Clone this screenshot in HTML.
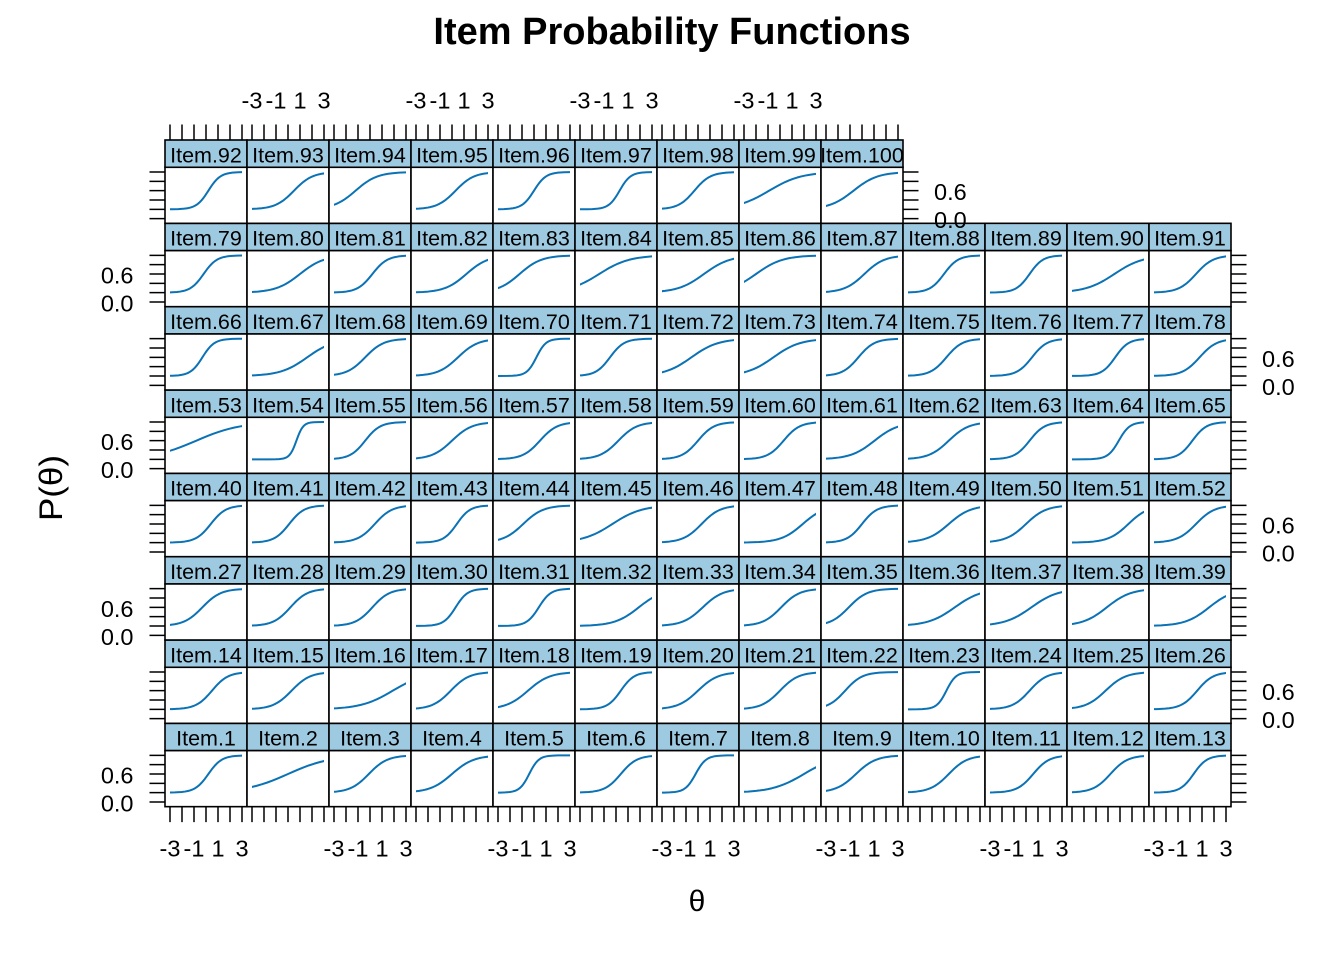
<!DOCTYPE html>
<html><head><meta charset="utf-8"><style>
html,body{margin:0;padding:0;background:#fff}
svg{display:block}
text{font-family:"Liberation Sans",Arial,sans-serif;fill:#000}
.s{fill:#9ECAE1;stroke:#000;stroke-width:1.6}
.p{fill:#fff;stroke:#000;stroke-width:1.6}
.c{fill:none;stroke:#0a72b5;stroke-width:2;vector-effect:non-scaling-stroke;stroke-linejoin:round}
.t{fill:none;stroke:#000;stroke-width:1.5}
.st{font-size:21.5px;text-anchor:middle}
.tl{font-size:23.5px}
.m{text-anchor:middle}
.e{text-anchor:end}
</style></head><body>
<svg width="1344" height="960" viewBox="0 0 1344 960" xmlns="http://www.w3.org/2000/svg">
<defs>
<clipPath id="c0" clipPathUnits="userSpaceOnUse"><rect x="170" y="-1000" width="72" height="3000"/></clipPath>
<clipPath id="c1" clipPathUnits="userSpaceOnUse"><rect x="252" y="-1000" width="72" height="3000"/></clipPath>
<clipPath id="c2" clipPathUnits="userSpaceOnUse"><rect x="334" y="-1000" width="72" height="3000"/></clipPath>
<clipPath id="c3" clipPathUnits="userSpaceOnUse"><rect x="416" y="-1000" width="72" height="3000"/></clipPath>
<clipPath id="c4" clipPathUnits="userSpaceOnUse"><rect x="498" y="-1000" width="72" height="3000"/></clipPath>
<clipPath id="c5" clipPathUnits="userSpaceOnUse"><rect x="580" y="-1000" width="72" height="3000"/></clipPath>
<clipPath id="c6" clipPathUnits="userSpaceOnUse"><rect x="662" y="-1000" width="72" height="3000"/></clipPath>
<clipPath id="c7" clipPathUnits="userSpaceOnUse"><rect x="744" y="-1000" width="72" height="3000"/></clipPath>
<clipPath id="c8" clipPathUnits="userSpaceOnUse"><rect x="826" y="-1000" width="72" height="3000"/></clipPath>
<clipPath id="c9" clipPathUnits="userSpaceOnUse"><rect x="908" y="-1000" width="72" height="3000"/></clipPath>
<clipPath id="c10" clipPathUnits="userSpaceOnUse"><rect x="990" y="-1000" width="72" height="3000"/></clipPath>
<clipPath id="c11" clipPathUnits="userSpaceOnUse"><rect x="1072" y="-1000" width="72" height="3000"/></clipPath>
<clipPath id="c12" clipPathUnits="userSpaceOnUse"><rect x="1154" y="-1000" width="72" height="3000"/></clipPath>
<clipPath id="s100" clipPathUnits="userSpaceOnUse"><rect x="822" y="140" width="82" height="27.3"/></clipPath>
</defs>

<text x="672" y="44" class="m" font-weight="bold" font-size="38">Item Probability Functions</text>

<!-- ROW 7: items 1-13 -->
<g transform="translate(0,583.333)">
<rect class="s" x="165" y="140" width="82" height="27.3"/><rect class="p" x="165" y="167.3" width="82" height="56.03"/>
<rect class="s" x="247" y="140" width="82" height="27.3"/><rect class="p" x="247" y="167.3" width="82" height="56.03"/>
<rect class="s" x="329" y="140" width="82" height="27.3"/><rect class="p" x="329" y="167.3" width="82" height="56.03"/>
<rect class="s" x="411" y="140" width="82" height="27.3"/><rect class="p" x="411" y="167.3" width="82" height="56.03"/>
<rect class="s" x="493" y="140" width="82" height="27.3"/><rect class="p" x="493" y="167.3" width="82" height="56.03"/>
<rect class="s" x="575" y="140" width="82" height="27.3"/><rect class="p" x="575" y="167.3" width="82" height="56.03"/>
<rect class="s" x="657" y="140" width="82" height="27.3"/><rect class="p" x="657" y="167.3" width="82" height="56.03"/>
<rect class="s" x="739" y="140" width="82" height="27.3"/><rect class="p" x="739" y="167.3" width="82" height="56.03"/>
<rect class="s" x="821" y="140" width="82" height="27.3"/><rect class="p" x="821" y="167.3" width="82" height="56.03"/>
<rect class="s" x="903" y="140" width="82" height="27.3"/><rect class="p" x="903" y="167.3" width="82" height="56.03"/>
<rect class="s" x="985" y="140" width="82" height="27.3"/><rect class="p" x="985" y="167.3" width="82" height="56.03"/>
<rect class="s" x="1067" y="140" width="82" height="27.3"/><rect class="p" x="1067" y="167.3" width="82" height="56.03"/>
<rect class="s" x="1149" y="140" width="82" height="27.3"/><rect class="p" x="1149" y="167.3" width="82" height="56.03"/>
<g clip-path="url(#c0)"><path class="c" transform="matrix(.6667 0 0 .37333 208.4 209.33)" d="M-400 0L-80-.03L-60-.25L-50-.67L-40-1.8L-35-2.93L-30-4.74L-27.5-6.01L-25-7.59L-22.5-9.53L-20-11.92L-17.5-14.8L-15-18.24L-12.5-22.27L-10-26.89L-7.5-32.08L-5-37.75L-2.5-43.78L0-50L2.5-56.22L5-62.25L7.5-67.92L10-73.11L12.5-77.73L15-81.76L17.5-85.2L20-88.08L22.5-90.47L25-92.41L27.5-93.99L30-95.26L35-97.07L40-98.2L50-99.33L60-99.75L80-99.97L400-100"/></g>
<g clip-path="url(#c1)"><path class="c" transform="matrix(2.105 0 0 .37333 288 209.33)" d="M-400 0L-80-.03L-60-.25L-50-.67L-40-1.8L-35-2.93L-30-4.74L-27.5-6.01L-25-7.59L-22.5-9.53L-20-11.92L-17.5-14.8L-15-18.24L-12.5-22.27L-10-26.89L-7.5-32.08L-5-37.75L-2.5-43.78L0-50L2.5-56.22L5-62.25L7.5-67.92L10-73.11L12.5-77.73L15-81.76L17.5-85.2L20-88.08L22.5-90.47L25-92.41L27.5-93.99L30-95.26L35-97.07L40-98.2L50-99.33L60-99.75L80-99.97L400-100"/></g>
<g clip-path="url(#c2)"><path class="c" transform="matrix(.923 0 0 .37333 368.8 209.33)" d="M-400 0L-80-.03L-60-.25L-50-.67L-40-1.8L-35-2.93L-30-4.74L-27.5-6.01L-25-7.59L-22.5-9.53L-20-11.92L-17.5-14.8L-15-18.24L-12.5-22.27L-10-26.89L-7.5-32.08L-5-37.75L-2.5-43.78L0-50L2.5-56.22L5-62.25L7.5-67.92L10-73.11L12.5-77.73L15-81.76L17.5-85.2L20-88.08L22.5-90.47L25-92.41L27.5-93.99L30-95.26L35-97.07L40-98.2L50-99.33L60-99.75L80-99.97L400-100"/></g>
<g clip-path="url(#c3)"><path class="c" transform="matrix(1.091 0 0 .37333 452 209.33)" d="M-400 0L-80-.03L-60-.25L-50-.67L-40-1.8L-35-2.93L-30-4.74L-27.5-6.01L-25-7.59L-22.5-9.53L-20-11.92L-17.5-14.8L-15-18.24L-12.5-22.27L-10-26.89L-7.5-32.08L-5-37.75L-2.5-43.78L0-50L2.5-56.22L5-62.25L7.5-67.92L10-73.11L12.5-77.73L15-81.76L17.5-85.2L20-88.08L22.5-90.47L25-92.41L27.5-93.99L30-95.26L35-97.07L40-98.2L50-99.33L60-99.75L80-99.97L400-100"/></g>
<g clip-path="url(#c4)"><path class="c" transform="matrix(.48 0 0 .37333 529.2 209.33)" d="M-400 0L-80-.03L-60-.25L-50-.67L-40-1.8L-35-2.93L-30-4.74L-27.5-6.01L-25-7.59L-22.5-9.53L-20-11.92L-17.5-14.8L-15-18.24L-12.5-22.27L-10-26.89L-7.5-32.08L-5-37.75L-2.5-43.78L0-50L2.5-56.22L5-62.25L7.5-67.92L10-73.11L12.5-77.73L15-81.76L17.5-85.2L20-88.08L22.5-90.47L25-92.41L27.5-93.99L30-95.26L35-97.07L40-98.2L50-99.33L60-99.75L80-99.97L400-100"/></g>
<g clip-path="url(#c5)"><path class="c" transform="matrix(.8 0 0 .37333 620.8 209.33)" d="M-400 0L-80-.03L-60-.25L-50-.67L-40-1.8L-35-2.93L-30-4.74L-27.5-6.01L-25-7.59L-22.5-9.53L-20-11.92L-17.5-14.8L-15-18.24L-12.5-22.27L-10-26.89L-7.5-32.08L-5-37.75L-2.5-43.78L0-50L2.5-56.22L5-62.25L7.5-67.92L10-73.11L12.5-77.73L15-81.76L17.5-85.2L20-88.08L22.5-90.47L25-92.41L27.5-93.99L30-95.26L35-97.07L40-98.2L50-99.33L60-99.75L80-99.97L400-100"/></g>
<g clip-path="url(#c6)"><path class="c" transform="matrix(.5217 0 0 .37333 695.6 209.33)" d="M-400 0L-80-.03L-60-.25L-50-.67L-40-1.8L-35-2.93L-30-4.74L-27.5-6.01L-25-7.59L-22.5-9.53L-20-11.92L-17.5-14.8L-15-18.24L-12.5-22.27L-10-26.89L-7.5-32.08L-5-37.75L-2.5-43.78L0-50L2.5-56.22L5-62.25L7.5-67.92L10-73.11L12.5-77.73L15-81.76L17.5-85.2L20-88.08L22.5-90.47L25-92.41L27.5-93.99L30-95.26L35-97.07L40-98.2L50-99.33L60-99.75L80-99.97L400-100"/></g>
<g clip-path="url(#c7)"><path class="c" transform="matrix(1.6 0 0 .37333 804 209.33)" d="M-400 0L-80-.03L-60-.25L-50-.67L-40-1.8L-35-2.93L-30-4.74L-27.5-6.01L-25-7.59L-22.5-9.53L-20-11.92L-17.5-14.8L-15-18.24L-12.5-22.27L-10-26.89L-7.5-32.08L-5-37.75L-2.5-43.78L0-50L2.5-56.22L5-62.25L7.5-67.92L10-73.11L12.5-77.73L15-81.76L17.5-85.2L20-88.08L22.5-90.47L25-92.41L27.5-93.99L30-95.26L35-97.07L40-98.2L50-99.33L60-99.75L80-99.97L400-100"/></g>
<g clip-path="url(#c8)"><path class="c" transform="matrix(1 0 0 .37333 856 209.33)" d="M-400 0L-80-.03L-60-.25L-50-.67L-40-1.8L-35-2.93L-30-4.74L-27.5-6.01L-25-7.59L-22.5-9.53L-20-11.92L-17.5-14.8L-15-18.24L-12.5-22.27L-10-26.89L-7.5-32.08L-5-37.75L-2.5-43.78L0-50L2.5-56.22L5-62.25L7.5-67.92L10-73.11L12.5-77.73L15-81.76L17.5-85.2L20-88.08L22.5-90.47L25-92.41L27.5-93.99L30-95.26L35-97.07L40-98.2L50-99.33L60-99.75L80-99.97L400-100"/></g>
<g clip-path="url(#c9)"><path class="c" transform="matrix(.923 0 0 .37333 948.8 209.33)" d="M-400 0L-80-.03L-60-.25L-50-.67L-40-1.8L-35-2.93L-30-4.74L-27.5-6.01L-25-7.59L-22.5-9.53L-20-11.92L-17.5-14.8L-15-18.24L-12.5-22.27L-10-26.89L-7.5-32.08L-5-37.75L-2.5-43.78L0-50L2.5-56.22L5-62.25L7.5-67.92L10-73.11L12.5-77.73L15-81.76L17.5-85.2L20-88.08L22.5-90.47L25-92.41L27.5-93.99L30-95.26L35-97.07L40-98.2L50-99.33L60-99.75L80-99.97L400-100"/></g>
<g clip-path="url(#c10)"><path class="c" transform="matrix(.8 0 0 .37333 1033.2 209.33)" d="M-400 0L-80-.03L-60-.25L-50-.67L-40-1.8L-35-2.93L-30-4.74L-27.5-6.01L-25-7.59L-22.5-9.53L-20-11.92L-17.5-14.8L-15-18.24L-12.5-22.27L-10-26.89L-7.5-32.08L-5-37.75L-2.5-43.78L0-50L2.5-56.22L5-62.25L7.5-67.92L10-73.11L12.5-77.73L15-81.76L17.5-85.2L20-88.08L22.5-90.47L25-92.41L27.5-93.99L30-95.26L35-97.07L40-98.2L50-99.33L60-99.75L80-99.97L400-100"/></g>
<g clip-path="url(#c11)"><path class="c" transform="matrix(.857 0 0 .37333 1110.4 209.33)" d="M-400 0L-80-.03L-60-.25L-50-.67L-40-1.8L-35-2.93L-30-4.74L-27.5-6.01L-25-7.59L-22.5-9.53L-20-11.92L-17.5-14.8L-15-18.24L-12.5-22.27L-10-26.89L-7.5-32.08L-5-37.75L-2.5-43.78L0-50L2.5-56.22L5-62.25L7.5-67.92L10-73.11L12.5-77.73L15-81.76L17.5-85.2L20-88.08L22.5-90.47L25-92.41L27.5-93.99L30-95.26L35-97.07L40-98.2L50-99.33L60-99.75L80-99.97L400-100"/></g>
<g clip-path="url(#c12)"><path class="c" transform="matrix(.6667 0 0 .37333 1193.6 209.33)" d="M-400 0L-80-.03L-60-.25L-50-.67L-40-1.8L-35-2.93L-30-4.74L-27.5-6.01L-25-7.59L-22.5-9.53L-20-11.92L-17.5-14.8L-15-18.24L-12.5-22.27L-10-26.89L-7.5-32.08L-5-37.75L-2.5-43.78L0-50L2.5-56.22L5-62.25L7.5-67.92L10-73.11L12.5-77.73L15-81.76L17.5-85.2L20-88.08L22.5-90.47L25-92.41L27.5-93.99L30-95.26L35-97.07L40-98.2L50-99.33L60-99.75L80-99.97L400-100"/></g>
<text class="st" x="206" y="162.3">Item.1</text><text class="st" x="288" y="162.3">Item.2</text><text class="st" x="370" y="162.3">Item.3</text><text class="st" x="452" y="162.3">Item.4</text><text class="st" x="534" y="162.3">Item.5</text><text class="st" x="616" y="162.3">Item.6</text><text class="st" x="698" y="162.3">Item.7</text><text class="st" x="780" y="162.3">Item.8</text><text class="st" x="862" y="162.3">Item.9</text><text class="st" x="944" y="162.3">Item.10</text><text class="st" x="1026" y="162.3">Item.11</text><text class="st" x="1108" y="162.3">Item.12</text><text class="st" x="1190" y="162.3">Item.13</text>
<path class="t" d="M149.5 218.67h15.5M149.5 209.33h15.5M149.5 200h15.5M149.5 190.67h15.5M149.5 181.33h15.5M149.5 172h15.5M1231 218.67h15.5M1231 209.33h15.5M1231 200h15.5M1231 190.67h15.5M1231 181.33h15.5M1231 172h15.5"/>
</g>

<!-- ROW 6: items 14-26 -->
<g transform="translate(0,500)">
<rect class="s" x="165" y="140" width="82" height="27.3"/><rect class="p" x="165" y="167.3" width="82" height="56.03"/>
<rect class="s" x="247" y="140" width="82" height="27.3"/><rect class="p" x="247" y="167.3" width="82" height="56.03"/>
<rect class="s" x="329" y="140" width="82" height="27.3"/><rect class="p" x="329" y="167.3" width="82" height="56.03"/>
<rect class="s" x="411" y="140" width="82" height="27.3"/><rect class="p" x="411" y="167.3" width="82" height="56.03"/>
<rect class="s" x="493" y="140" width="82" height="27.3"/><rect class="p" x="493" y="167.3" width="82" height="56.03"/>
<rect class="s" x="575" y="140" width="82" height="27.3"/><rect class="p" x="575" y="167.3" width="82" height="56.03"/>
<rect class="s" x="657" y="140" width="82" height="27.3"/><rect class="p" x="657" y="167.3" width="82" height="56.03"/>
<rect class="s" x="739" y="140" width="82" height="27.3"/><rect class="p" x="739" y="167.3" width="82" height="56.03"/>
<rect class="s" x="821" y="140" width="82" height="27.3"/><rect class="p" x="821" y="167.3" width="82" height="56.03"/>
<rect class="s" x="903" y="140" width="82" height="27.3"/><rect class="p" x="903" y="167.3" width="82" height="56.03"/>
<rect class="s" x="985" y="140" width="82" height="27.3"/><rect class="p" x="985" y="167.3" width="82" height="56.03"/>
<rect class="s" x="1067" y="140" width="82" height="27.3"/><rect class="p" x="1067" y="167.3" width="82" height="56.03"/>
<rect class="s" x="1149" y="140" width="82" height="27.3"/><rect class="p" x="1149" y="167.3" width="82" height="56.03"/>
<g clip-path="url(#c0)"><path class="c" transform="matrix(.8 0 0 .37333 212 209.33)" d="M-400 0L-80-.03L-60-.25L-50-.67L-40-1.8L-35-2.93L-30-4.74L-27.5-6.01L-25-7.59L-22.5-9.53L-20-11.92L-17.5-14.8L-15-18.24L-12.5-22.27L-10-26.89L-7.5-32.08L-5-37.75L-2.5-43.78L0-50L2.5-56.22L5-62.25L7.5-67.92L10-73.11L12.5-77.73L15-81.76L17.5-85.2L20-88.08L22.5-90.47L25-92.41L27.5-93.99L30-95.26L35-97.07L40-98.2L50-99.33L60-99.75L80-99.97L400-100"/></g>
<g clip-path="url(#c1)"><path class="c" transform="matrix(.923 0 0 .37333 291.6 209.33)" d="M-400 0L-80-.03L-60-.25L-50-.67L-40-1.8L-35-2.93L-30-4.74L-27.5-6.01L-25-7.59L-22.5-9.53L-20-11.92L-17.5-14.8L-15-18.24L-12.5-22.27L-10-26.89L-7.5-32.08L-5-37.75L-2.5-43.78L0-50L2.5-56.22L5-62.25L7.5-67.92L10-73.11L12.5-77.73L15-81.76L17.5-85.2L20-88.08L22.5-90.47L25-92.41L27.5-93.99L30-95.26L35-97.07L40-98.2L50-99.33L60-99.75L80-99.97L400-100"/></g>
<g clip-path="url(#c2)"><path class="c" transform="matrix(1.6 0 0 .37333 392.8 209.33)" d="M-400 0L-80-.03L-60-.25L-50-.67L-40-1.8L-35-2.93L-30-4.74L-27.5-6.01L-25-7.59L-22.5-9.53L-20-11.92L-17.5-14.8L-15-18.24L-12.5-22.27L-10-26.89L-7.5-32.08L-5-37.75L-2.5-43.78L0-50L2.5-56.22L5-62.25L7.5-67.92L10-73.11L12.5-77.73L15-81.76L17.5-85.2L20-88.08L22.5-90.47L25-92.41L27.5-93.99L30-95.26L35-97.07L40-98.2L50-99.33L60-99.75L80-99.97L400-100"/></g>
<g clip-path="url(#c3)"><path class="c" transform="matrix(.923 0 0 .37333 450.8 209.33)" d="M-400 0L-80-.03L-60-.25L-50-.67L-40-1.8L-35-2.93L-30-4.74L-27.5-6.01L-25-7.59L-22.5-9.53L-20-11.92L-17.5-14.8L-15-18.24L-12.5-22.27L-10-26.89L-7.5-32.08L-5-37.75L-2.5-43.78L0-50L2.5-56.22L5-62.25L7.5-67.92L10-73.11L12.5-77.73L15-81.76L17.5-85.2L20-88.08L22.5-90.47L25-92.41L27.5-93.99L30-95.26L35-97.07L40-98.2L50-99.33L60-99.75L80-99.97L400-100"/></g>
<g clip-path="url(#c4)"><path class="c" transform="matrix(1.091 0 0 .37333 528 209.33)" d="M-400 0L-80-.03L-60-.25L-50-.67L-40-1.8L-35-2.93L-30-4.74L-27.5-6.01L-25-7.59L-22.5-9.53L-20-11.92L-17.5-14.8L-15-18.24L-12.5-22.27L-10-26.89L-7.5-32.08L-5-37.75L-2.5-43.78L0-50L2.5-56.22L5-62.25L7.5-67.92L10-73.11L12.5-77.73L15-81.76L17.5-85.2L20-88.08L22.5-90.47L25-92.41L27.5-93.99L30-95.26L35-97.07L40-98.2L50-99.33L60-99.75L80-99.97L400-100"/></g>
<g clip-path="url(#c5)"><path class="c" transform="matrix(.6667 0 0 .37333 620.8 209.33)" d="M-400 0L-80-.03L-60-.25L-50-.67L-40-1.8L-35-2.93L-30-4.74L-27.5-6.01L-25-7.59L-22.5-9.53L-20-11.92L-17.5-14.8L-15-18.24L-12.5-22.27L-10-26.89L-7.5-32.08L-5-37.75L-2.5-43.78L0-50L2.5-56.22L5-62.25L7.5-67.92L10-73.11L12.5-77.73L15-81.76L17.5-85.2L20-88.08L22.5-90.47L25-92.41L27.5-93.99L30-95.26L35-97.07L40-98.2L50-99.33L60-99.75L80-99.97L400-100"/></g>
<g clip-path="url(#c6)"><path class="c" transform="matrix(1 0 0 .37333 698 209.33)" d="M-400 0L-80-.03L-60-.25L-50-.67L-40-1.8L-35-2.93L-30-4.74L-27.5-6.01L-25-7.59L-22.5-9.53L-20-11.92L-17.5-14.8L-15-18.24L-12.5-22.27L-10-26.89L-7.5-32.08L-5-37.75L-2.5-43.78L0-50L2.5-56.22L5-62.25L7.5-67.92L10-73.11L12.5-77.73L15-81.76L17.5-85.2L20-88.08L22.5-90.47L25-92.41L27.5-93.99L30-95.26L35-97.07L40-98.2L50-99.33L60-99.75L80-99.97L400-100"/></g>
<g clip-path="url(#c7)"><path class="c" transform="matrix(.923 0 0 .37333 780 209.33)" d="M-400 0L-80-.03L-60-.25L-50-.67L-40-1.8L-35-2.93L-30-4.74L-27.5-6.01L-25-7.59L-22.5-9.53L-20-11.92L-17.5-14.8L-15-18.24L-12.5-22.27L-10-26.89L-7.5-32.08L-5-37.75L-2.5-43.78L0-50L2.5-56.22L5-62.25L7.5-67.92L10-73.11L12.5-77.73L15-81.76L17.5-85.2L20-88.08L22.5-90.47L25-92.41L27.5-93.99L30-95.26L35-97.07L40-98.2L50-99.33L60-99.75L80-99.97L400-100"/></g>
<g clip-path="url(#c8)"><path class="c" transform="matrix(.857 0 0 .37333 845.2 209.33)" d="M-400 0L-80-.03L-60-.25L-50-.67L-40-1.8L-35-2.93L-30-4.74L-27.5-6.01L-25-7.59L-22.5-9.53L-20-11.92L-17.5-14.8L-15-18.24L-12.5-22.27L-10-26.89L-7.5-32.08L-5-37.75L-2.5-43.78L0-50L2.5-56.22L5-62.25L7.5-67.92L10-73.11L12.5-77.73L15-81.76L17.5-85.2L20-88.08L22.5-90.47L25-92.41L27.5-93.99L30-95.26L35-97.07L40-98.2L50-99.33L60-99.75L80-99.97L400-100"/></g>
<g clip-path="url(#c9)"><path class="c" transform="matrix(.48 0 0 .37333 946.4 209.33)" d="M-400 0L-80-.03L-60-.25L-50-.67L-40-1.8L-35-2.93L-30-4.74L-27.5-6.01L-25-7.59L-22.5-9.53L-20-11.92L-17.5-14.8L-15-18.24L-12.5-22.27L-10-26.89L-7.5-32.08L-5-37.75L-2.5-43.78L0-50L2.5-56.22L5-62.25L7.5-67.92L10-73.11L12.5-77.73L15-81.76L17.5-85.2L20-88.08L22.5-90.47L25-92.41L27.5-93.99L30-95.26L35-97.07L40-98.2L50-99.33L60-99.75L80-99.97L400-100"/></g>
<g clip-path="url(#c10)"><path class="c" transform="matrix(.857 0 0 .37333 1029.6 209.33)" d="M-400 0L-80-.03L-60-.25L-50-.67L-40-1.8L-35-2.93L-30-4.74L-27.5-6.01L-25-7.59L-22.5-9.53L-20-11.92L-17.5-14.8L-15-18.24L-12.5-22.27L-10-26.89L-7.5-32.08L-5-37.75L-2.5-43.78L0-50L2.5-56.22L5-62.25L7.5-67.92L10-73.11L12.5-77.73L15-81.76L17.5-85.2L20-88.08L22.5-90.47L25-92.41L27.5-93.99L30-95.26L35-97.07L40-98.2L50-99.33L60-99.75L80-99.97L400-100"/></g>
<g clip-path="url(#c11)"><path class="c" transform="matrix(1 0 0 .37333 1105.6 209.33)" d="M-400 0L-80-.03L-60-.25L-50-.67L-40-1.8L-35-2.93L-30-4.74L-27.5-6.01L-25-7.59L-22.5-9.53L-20-11.92L-17.5-14.8L-15-18.24L-12.5-22.27L-10-26.89L-7.5-32.08L-5-37.75L-2.5-43.78L0-50L2.5-56.22L5-62.25L7.5-67.92L10-73.11L12.5-77.73L15-81.76L17.5-85.2L20-88.08L22.5-90.47L25-92.41L27.5-93.99L30-95.26L35-97.07L40-98.2L50-99.33L60-99.75L80-99.97L400-100"/></g>
<g clip-path="url(#c12)"><path class="c" transform="matrix(.8 0 0 .37333 1197.2 209.33)" d="M-400 0L-80-.03L-60-.25L-50-.67L-40-1.8L-35-2.93L-30-4.74L-27.5-6.01L-25-7.59L-22.5-9.53L-20-11.92L-17.5-14.8L-15-18.24L-12.5-22.27L-10-26.89L-7.5-32.08L-5-37.75L-2.5-43.78L0-50L2.5-56.22L5-62.25L7.5-67.92L10-73.11L12.5-77.73L15-81.76L17.5-85.2L20-88.08L22.5-90.47L25-92.41L27.5-93.99L30-95.26L35-97.07L40-98.2L50-99.33L60-99.75L80-99.97L400-100"/></g>
<text class="st" x="206" y="162.3">Item.14</text><text class="st" x="288" y="162.3">Item.15</text><text class="st" x="370" y="162.3">Item.16</text><text class="st" x="452" y="162.3">Item.17</text><text class="st" x="534" y="162.3">Item.18</text><text class="st" x="616" y="162.3">Item.19</text><text class="st" x="698" y="162.3">Item.20</text><text class="st" x="780" y="162.3">Item.21</text><text class="st" x="862" y="162.3">Item.22</text><text class="st" x="944" y="162.3">Item.23</text><text class="st" x="1026" y="162.3">Item.24</text><text class="st" x="1108" y="162.3">Item.25</text><text class="st" x="1190" y="162.3">Item.26</text>
<path class="t" d="M149.5 218.67h15.5M149.5 209.33h15.5M149.5 200h15.5M149.5 190.67h15.5M149.5 181.33h15.5M149.5 172h15.5M1231 218.67h15.5M1231 209.33h15.5M1231 200h15.5M1231 190.67h15.5M1231 181.33h15.5M1231 172h15.5"/>
</g>

<!-- ROW 5: items 27-39 -->
<g transform="translate(0,416.667)">
<rect class="s" x="165" y="140" width="82" height="27.3"/><rect class="p" x="165" y="167.3" width="82" height="56.03"/>
<rect class="s" x="247" y="140" width="82" height="27.3"/><rect class="p" x="247" y="167.3" width="82" height="56.03"/>
<rect class="s" x="329" y="140" width="82" height="27.3"/><rect class="p" x="329" y="167.3" width="82" height="56.03"/>
<rect class="s" x="411" y="140" width="82" height="27.3"/><rect class="p" x="411" y="167.3" width="82" height="56.03"/>
<rect class="s" x="493" y="140" width="82" height="27.3"/><rect class="p" x="493" y="167.3" width="82" height="56.03"/>
<rect class="s" x="575" y="140" width="82" height="27.3"/><rect class="p" x="575" y="167.3" width="82" height="56.03"/>
<rect class="s" x="657" y="140" width="82" height="27.3"/><rect class="p" x="657" y="167.3" width="82" height="56.03"/>
<rect class="s" x="739" y="140" width="82" height="27.3"/><rect class="p" x="739" y="167.3" width="82" height="56.03"/>
<rect class="s" x="821" y="140" width="82" height="27.3"/><rect class="p" x="821" y="167.3" width="82" height="56.03"/>
<rect class="s" x="903" y="140" width="82" height="27.3"/><rect class="p" x="903" y="167.3" width="82" height="56.03"/>
<rect class="s" x="985" y="140" width="82" height="27.3"/><rect class="p" x="985" y="167.3" width="82" height="56.03"/>
<rect class="s" x="1067" y="140" width="82" height="27.3"/><rect class="p" x="1067" y="167.3" width="82" height="56.03"/>
<rect class="s" x="1149" y="140" width="82" height="27.3"/><rect class="p" x="1149" y="167.3" width="82" height="56.03"/>
<g clip-path="url(#c0)"><path class="c" transform="matrix(.923 0 0 .37333 202.4 209.33)" d="M-400 0L-80-.03L-60-.25L-50-.67L-40-1.8L-35-2.93L-30-4.74L-27.5-6.01L-25-7.59L-22.5-9.53L-20-11.92L-17.5-14.8L-15-18.24L-12.5-22.27L-10-26.89L-7.5-32.08L-5-37.75L-2.5-43.78L0-50L2.5-56.22L5-62.25L7.5-67.92L10-73.11L12.5-77.73L15-81.76L17.5-85.2L20-88.08L22.5-90.47L25-92.41L27.5-93.99L30-95.26L35-97.07L40-98.2L50-99.33L60-99.75L80-99.97L400-100"/></g>
<g clip-path="url(#c1)"><path class="c" transform="matrix(.857 0 0 .37333 290.4 209.33)" d="M-400 0L-80-.03L-60-.25L-50-.67L-40-1.8L-35-2.93L-30-4.74L-27.5-6.01L-25-7.59L-22.5-9.53L-20-11.92L-17.5-14.8L-15-18.24L-12.5-22.27L-10-26.89L-7.5-32.08L-5-37.75L-2.5-43.78L0-50L2.5-56.22L5-62.25L7.5-67.92L10-73.11L12.5-77.73L15-81.76L17.5-85.2L20-88.08L22.5-90.47L25-92.41L27.5-93.99L30-95.26L35-97.07L40-98.2L50-99.33L60-99.75L80-99.97L400-100"/></g>
<g clip-path="url(#c2)"><path class="c" transform="matrix(.857 0 0 .37333 372.4 209.33)" d="M-400 0L-80-.03L-60-.25L-50-.67L-40-1.8L-35-2.93L-30-4.74L-27.5-6.01L-25-7.59L-22.5-9.53L-20-11.92L-17.5-14.8L-15-18.24L-12.5-22.27L-10-26.89L-7.5-32.08L-5-37.75L-2.5-43.78L0-50L2.5-56.22L5-62.25L7.5-67.92L10-73.11L12.5-77.73L15-81.76L17.5-85.2L20-88.08L22.5-90.47L25-92.41L27.5-93.99L30-95.26L35-97.07L40-98.2L50-99.33L60-99.75L80-99.97L400-100"/></g>
<g clip-path="url(#c3)"><path class="c" transform="matrix(.6 0 0 .37333 455.6 209.33)" d="M-400 0L-80-.03L-60-.25L-50-.67L-40-1.8L-35-2.93L-30-4.74L-27.5-6.01L-25-7.59L-22.5-9.53L-20-11.92L-17.5-14.8L-15-18.24L-12.5-22.27L-10-26.89L-7.5-32.08L-5-37.75L-2.5-43.78L0-50L2.5-56.22L5-62.25L7.5-67.92L10-73.11L12.5-77.73L15-81.76L17.5-85.2L20-88.08L22.5-90.47L25-92.41L27.5-93.99L30-95.26L35-97.07L40-98.2L50-99.33L60-99.75L80-99.97L400-100"/></g>
<g clip-path="url(#c4)"><path class="c" transform="matrix(.6 0 0 .37333 538.8 209.33)" d="M-400 0L-80-.03L-60-.25L-50-.67L-40-1.8L-35-2.93L-30-4.74L-27.5-6.01L-25-7.59L-22.5-9.53L-20-11.92L-17.5-14.8L-15-18.24L-12.5-22.27L-10-26.89L-7.5-32.08L-5-37.75L-2.5-43.78L0-50L2.5-56.22L5-62.25L7.5-67.92L10-73.11L12.5-77.73L15-81.76L17.5-85.2L20-88.08L22.5-90.47L25-92.41L27.5-93.99L30-95.26L35-97.07L40-98.2L50-99.33L60-99.75L80-99.97L400-100"/></g>
<g clip-path="url(#c5)"><path class="c" transform="matrix(1.2 0 0 .37333 638.8 209.33)" d="M-400 0L-80-.03L-60-.25L-50-.67L-40-1.8L-35-2.93L-30-4.74L-27.5-6.01L-25-7.59L-22.5-9.53L-20-11.92L-17.5-14.8L-15-18.24L-12.5-22.27L-10-26.89L-7.5-32.08L-5-37.75L-2.5-43.78L0-50L2.5-56.22L5-62.25L7.5-67.92L10-73.11L12.5-77.73L15-81.76L17.5-85.2L20-88.08L22.5-90.47L25-92.41L27.5-93.99L30-95.26L35-97.07L40-98.2L50-99.33L60-99.75L80-99.97L400-100"/></g>
<g clip-path="url(#c6)"><path class="c" transform="matrix(1 0 0 .37333 702.8 209.33)" d="M-400 0L-80-.03L-60-.25L-50-.67L-40-1.8L-35-2.93L-30-4.74L-27.5-6.01L-25-7.59L-22.5-9.53L-20-11.92L-17.5-14.8L-15-18.24L-12.5-22.27L-10-26.89L-7.5-32.08L-5-37.75L-2.5-43.78L0-50L2.5-56.22L5-62.25L7.5-67.92L10-73.11L12.5-77.73L15-81.76L17.5-85.2L20-88.08L22.5-90.47L25-92.41L27.5-93.99L30-95.26L35-97.07L40-98.2L50-99.33L60-99.75L80-99.97L400-100"/></g>
<g clip-path="url(#c7)"><path class="c" transform="matrix(.923 0 0 .37333 781.2 209.33)" d="M-400 0L-80-.03L-60-.25L-50-.67L-40-1.8L-35-2.93L-30-4.74L-27.5-6.01L-25-7.59L-22.5-9.53L-20-11.92L-17.5-14.8L-15-18.24L-12.5-22.27L-10-26.89L-7.5-32.08L-5-37.75L-2.5-43.78L0-50L2.5-56.22L5-62.25L7.5-67.92L10-73.11L12.5-77.73L15-81.76L17.5-85.2L20-88.08L22.5-90.47L25-92.41L27.5-93.99L30-95.26L35-97.07L40-98.2L50-99.33L60-99.75L80-99.97L400-100"/></g>
<g clip-path="url(#c8)"><path class="c" transform="matrix(.923 0 0 .37333 848.8 209.33)" d="M-400 0L-80-.03L-60-.25L-50-.67L-40-1.8L-35-2.93L-30-4.74L-27.5-6.01L-25-7.59L-22.5-9.53L-20-11.92L-17.5-14.8L-15-18.24L-12.5-22.27L-10-26.89L-7.5-32.08L-5-37.75L-2.5-43.78L0-50L2.5-56.22L5-62.25L7.5-67.92L10-73.11L12.5-77.73L15-81.76L17.5-85.2L20-88.08L22.5-90.47L25-92.41L27.5-93.99L30-95.26L35-97.07L40-98.2L50-99.33L60-99.75L80-99.97L400-100"/></g>
<g clip-path="url(#c9)"><path class="c" transform="matrix(1.333 0 0 .37333 954.8 209.33)" d="M-400 0L-80-.03L-60-.25L-50-.67L-40-1.8L-35-2.93L-30-4.74L-27.5-6.01L-25-7.59L-22.5-9.53L-20-11.92L-17.5-14.8L-15-18.24L-12.5-22.27L-10-26.89L-7.5-32.08L-5-37.75L-2.5-43.78L0-50L2.5-56.22L5-62.25L7.5-67.92L10-73.11L12.5-77.73L15-81.76L17.5-85.2L20-88.08L22.5-90.47L25-92.41L27.5-93.99L30-95.26L35-97.07L40-98.2L50-99.33L60-99.75L80-99.97L400-100"/></g>
<g clip-path="url(#c10)"><path class="c" transform="matrix(1.333 0 0 .37333 1031.4 209.33)" d="M-400 0L-80-.03L-60-.25L-50-.67L-40-1.8L-35-2.93L-30-4.74L-27.5-6.01L-25-7.59L-22.5-9.53L-20-11.92L-17.5-14.8L-15-18.24L-12.5-22.27L-10-26.89L-7.5-32.08L-5-37.75L-2.5-43.78L0-50L2.5-56.22L5-62.25L7.5-67.92L10-73.11L12.5-77.73L15-81.76L17.5-85.2L20-88.08L22.5-90.47L25-92.41L27.5-93.99L30-95.26L35-97.07L40-98.2L50-99.33L60-99.75L80-99.97L400-100"/></g>
<g clip-path="url(#c11)"><path class="c" transform="matrix(1.2 0 0 .37333 1106.8 209.33)" d="M-400 0L-80-.03L-60-.25L-50-.67L-40-1.8L-35-2.93L-30-4.74L-27.5-6.01L-25-7.59L-22.5-9.53L-20-11.92L-17.5-14.8L-15-18.24L-12.5-22.27L-10-26.89L-7.5-32.08L-5-37.75L-2.5-43.78L0-50L2.5-56.22L5-62.25L7.5-67.92L10-73.11L12.5-77.73L15-81.76L17.5-85.2L20-88.08L22.5-90.47L25-92.41L27.5-93.99L30-95.26L35-97.07L40-98.2L50-99.33L60-99.75L80-99.97L400-100"/></g>
<g clip-path="url(#c12)"><path class="c" transform="matrix(1.2 0 0 .37333 1209.2 209.33)" d="M-400 0L-80-.03L-60-.25L-50-.67L-40-1.8L-35-2.93L-30-4.74L-27.5-6.01L-25-7.59L-22.5-9.53L-20-11.92L-17.5-14.8L-15-18.24L-12.5-22.27L-10-26.89L-7.5-32.08L-5-37.75L-2.5-43.78L0-50L2.5-56.22L5-62.25L7.5-67.92L10-73.11L12.5-77.73L15-81.76L17.5-85.2L20-88.08L22.5-90.47L25-92.41L27.5-93.99L30-95.26L35-97.07L40-98.2L50-99.33L60-99.75L80-99.97L400-100"/></g>
<text class="st" x="206" y="162.3">Item.27</text><text class="st" x="288" y="162.3">Item.28</text><text class="st" x="370" y="162.3">Item.29</text><text class="st" x="452" y="162.3">Item.30</text><text class="st" x="534" y="162.3">Item.31</text><text class="st" x="616" y="162.3">Item.32</text><text class="st" x="698" y="162.3">Item.33</text><text class="st" x="780" y="162.3">Item.34</text><text class="st" x="862" y="162.3">Item.35</text><text class="st" x="944" y="162.3">Item.36</text><text class="st" x="1026" y="162.3">Item.37</text><text class="st" x="1108" y="162.3">Item.38</text><text class="st" x="1190" y="162.3">Item.39</text>
<path class="t" d="M149.5 218.67h15.5M149.5 209.33h15.5M149.5 200h15.5M149.5 190.67h15.5M149.5 181.33h15.5M149.5 172h15.5M1231 218.67h15.5M1231 209.33h15.5M1231 200h15.5M1231 190.67h15.5M1231 181.33h15.5M1231 172h15.5"/>
</g>

<!-- ROW 4: items 40-52 -->
<g transform="translate(0,333.333)">
<rect class="s" x="165" y="140" width="82" height="27.3"/><rect class="p" x="165" y="167.3" width="82" height="56.03"/>
<rect class="s" x="247" y="140" width="82" height="27.3"/><rect class="p" x="247" y="167.3" width="82" height="56.03"/>
<rect class="s" x="329" y="140" width="82" height="27.3"/><rect class="p" x="329" y="167.3" width="82" height="56.03"/>
<rect class="s" x="411" y="140" width="82" height="27.3"/><rect class="p" x="411" y="167.3" width="82" height="56.03"/>
<rect class="s" x="493" y="140" width="82" height="27.3"/><rect class="p" x="493" y="167.3" width="82" height="56.03"/>
<rect class="s" x="575" y="140" width="82" height="27.3"/><rect class="p" x="575" y="167.3" width="82" height="56.03"/>
<rect class="s" x="657" y="140" width="82" height="27.3"/><rect class="p" x="657" y="167.3" width="82" height="56.03"/>
<rect class="s" x="739" y="140" width="82" height="27.3"/><rect class="p" x="739" y="167.3" width="82" height="56.03"/>
<rect class="s" x="821" y="140" width="82" height="27.3"/><rect class="p" x="821" y="167.3" width="82" height="56.03"/>
<rect class="s" x="903" y="140" width="82" height="27.3"/><rect class="p" x="903" y="167.3" width="82" height="56.03"/>
<rect class="s" x="985" y="140" width="82" height="27.3"/><rect class="p" x="985" y="167.3" width="82" height="56.03"/>
<rect class="s" x="1067" y="140" width="82" height="27.3"/><rect class="p" x="1067" y="167.3" width="82" height="56.03"/>
<rect class="s" x="1149" y="140" width="82" height="27.3"/><rect class="p" x="1149" y="167.3" width="82" height="56.03"/>
<g clip-path="url(#c0)"><path class="c" transform="matrix(.75 0 0 .37333 210.8 209.33)" d="M-400 0L-80-.03L-60-.25L-50-.67L-40-1.8L-35-2.93L-30-4.74L-27.5-6.01L-25-7.59L-22.5-9.53L-20-11.92L-17.5-14.8L-15-18.24L-12.5-22.27L-10-26.89L-7.5-32.08L-5-37.75L-2.5-43.78L0-50L2.5-56.22L5-62.25L7.5-67.92L10-73.11L12.5-77.73L15-81.76L17.5-85.2L20-88.08L22.5-90.47L25-92.41L27.5-93.99L30-95.26L35-97.07L40-98.2L50-99.33L60-99.75L80-99.97L400-100"/></g>
<g clip-path="url(#c1)"><path class="c" transform="matrix(.75 0 0 .37333 289.2 209.33)" d="M-400 0L-80-.03L-60-.25L-50-.67L-40-1.8L-35-2.93L-30-4.74L-27.5-6.01L-25-7.59L-22.5-9.53L-20-11.92L-17.5-14.8L-15-18.24L-12.5-22.27L-10-26.89L-7.5-32.08L-5-37.75L-2.5-43.78L0-50L2.5-56.22L5-62.25L7.5-67.92L10-73.11L12.5-77.73L15-81.76L17.5-85.2L20-88.08L22.5-90.47L25-92.41L27.5-93.99L30-95.26L35-97.07L40-98.2L50-99.33L60-99.75L80-99.97L400-100"/></g>
<g clip-path="url(#c2)"><path class="c" transform="matrix(.857 0 0 .37333 374.8 209.33)" d="M-400 0L-80-.03L-60-.25L-50-.67L-40-1.8L-35-2.93L-30-4.74L-27.5-6.01L-25-7.59L-22.5-9.53L-20-11.92L-17.5-14.8L-15-18.24L-12.5-22.27L-10-26.89L-7.5-32.08L-5-37.75L-2.5-43.78L0-50L2.5-56.22L5-62.25L7.5-67.92L10-73.11L12.5-77.73L15-81.76L17.5-85.2L20-88.08L22.5-90.47L25-92.41L27.5-93.99L30-95.26L35-97.07L40-98.2L50-99.33L60-99.75L80-99.97L400-100"/></g>
<g clip-path="url(#c3)"><path class="c" transform="matrix(.6667 0 0 .37333 456.8 209.33)" d="M-400 0L-80-.03L-60-.25L-50-.67L-40-1.8L-35-2.93L-30-4.74L-27.5-6.01L-25-7.59L-22.5-9.53L-20-11.92L-17.5-14.8L-15-18.24L-12.5-22.27L-10-26.89L-7.5-32.08L-5-37.75L-2.5-43.78L0-50L2.5-56.22L5-62.25L7.5-67.92L10-73.11L12.5-77.73L15-81.76L17.5-85.2L20-88.08L22.5-90.47L25-92.41L27.5-93.99L30-95.26L35-97.07L40-98.2L50-99.33L60-99.75L80-99.97L400-100"/></g>
<g clip-path="url(#c4)"><path class="c" transform="matrix(1 0 0 .37333 523.2 209.33)" d="M-400 0L-80-.03L-60-.25L-50-.67L-40-1.8L-35-2.93L-30-4.74L-27.5-6.01L-25-7.59L-22.5-9.53L-20-11.92L-17.5-14.8L-15-18.24L-12.5-22.27L-10-26.89L-7.5-32.08L-5-37.75L-2.5-43.78L0-50L2.5-56.22L5-62.25L7.5-67.92L10-73.11L12.5-77.73L15-81.76L17.5-85.2L20-88.08L22.5-90.47L25-92.41L27.5-93.99L30-95.26L35-97.07L40-98.2L50-99.33L60-99.75L80-99.97L400-100"/></g>
<g clip-path="url(#c5)"><path class="c" transform="matrix(1.463 0 0 .37333 612.4 209.33)" d="M-400 0L-80-.03L-60-.25L-50-.67L-40-1.8L-35-2.93L-30-4.74L-27.5-6.01L-25-7.59L-22.5-9.53L-20-11.92L-17.5-14.8L-15-18.24L-12.5-22.27L-10-26.89L-7.5-32.08L-5-37.75L-2.5-43.78L0-50L2.5-56.22L5-62.25L7.5-67.92L10-73.11L12.5-77.73L15-81.76L17.5-85.2L20-88.08L22.5-90.47L25-92.41L27.5-93.99L30-95.26L35-97.07L40-98.2L50-99.33L60-99.75L80-99.97L400-100"/></g>
<g clip-path="url(#c6)"><path class="c" transform="matrix(.923 0 0 .37333 701.6 209.33)" d="M-400 0L-80-.03L-60-.25L-50-.67L-40-1.8L-35-2.93L-30-4.74L-27.5-6.01L-25-7.59L-22.5-9.53L-20-11.92L-17.5-14.8L-15-18.24L-12.5-22.27L-10-26.89L-7.5-32.08L-5-37.75L-2.5-43.78L0-50L2.5-56.22L5-62.25L7.5-67.92L10-73.11L12.5-77.73L15-81.76L17.5-85.2L20-88.08L22.5-90.47L25-92.41L27.5-93.99L30-95.26L35-97.07L40-98.2L50-99.33L60-99.75L80-99.97L400-100"/></g>
<g clip-path="url(#c7)"><path class="c" transform="matrix(1.091 0 0 .37333 802.8 209.33)" d="M-400 0L-80-.03L-60-.25L-50-.67L-40-1.8L-35-2.93L-30-4.74L-27.5-6.01L-25-7.59L-22.5-9.53L-20-11.92L-17.5-14.8L-15-18.24L-12.5-22.27L-10-26.89L-7.5-32.08L-5-37.75L-2.5-43.78L0-50L2.5-56.22L5-62.25L7.5-67.92L10-73.11L12.5-77.73L15-81.76L17.5-85.2L20-88.08L22.5-90.47L25-92.41L27.5-93.99L30-95.26L35-97.07L40-98.2L50-99.33L60-99.75L80-99.97L400-100"/></g>
<g clip-path="url(#c8)"><path class="c" transform="matrix(.75 0 0 .37333 862 209.33)" d="M-400 0L-80-.03L-60-.25L-50-.67L-40-1.8L-35-2.93L-30-4.74L-27.5-6.01L-25-7.59L-22.5-9.53L-20-11.92L-17.5-14.8L-15-18.24L-12.5-22.27L-10-26.89L-7.5-32.08L-5-37.75L-2.5-43.78L0-50L2.5-56.22L5-62.25L7.5-67.92L10-73.11L12.5-77.73L15-81.76L17.5-85.2L20-88.08L22.5-90.47L25-92.41L27.5-93.99L30-95.26L35-97.07L40-98.2L50-99.33L60-99.75L80-99.97L400-100"/></g>
<g clip-path="url(#c9)"><path class="c" transform="matrix(1.091 0 0 .37333 948.8 209.33)" d="M-400 0L-80-.03L-60-.25L-50-.67L-40-1.8L-35-2.93L-30-4.74L-27.5-6.01L-25-7.59L-22.5-9.53L-20-11.92L-17.5-14.8L-15-18.24L-12.5-22.27L-10-26.89L-7.5-32.08L-5-37.75L-2.5-43.78L0-50L2.5-56.22L5-62.25L7.5-67.92L10-73.11L12.5-77.73L15-81.76L17.5-85.2L20-88.08L22.5-90.47L25-92.41L27.5-93.99L30-95.26L35-97.07L40-98.2L50-99.33L60-99.75L80-99.97L400-100"/></g>
<g clip-path="url(#c10)"><path class="c" transform="matrix(1 0 0 .37333 1026 209.33)" d="M-400 0L-80-.03L-60-.25L-50-.67L-40-1.8L-35-2.93L-30-4.74L-27.5-6.01L-25-7.59L-22.5-9.53L-20-11.92L-17.5-14.8L-15-18.24L-12.5-22.27L-10-26.89L-7.5-32.08L-5-37.75L-2.5-43.78L0-50L2.5-56.22L5-62.25L7.5-67.92L10-73.11L12.5-77.73L15-81.76L17.5-85.2L20-88.08L22.5-90.47L25-92.41L27.5-93.99L30-95.26L35-97.07L40-98.2L50-99.33L60-99.75L80-99.97L400-100"/></g>
<g clip-path="url(#c11)"><path class="c" transform="matrix(1 0 0 .37333 1128.4 209.33)" d="M-400 0L-80-.03L-60-.25L-50-.67L-40-1.8L-35-2.93L-30-4.74L-27.5-6.01L-25-7.59L-22.5-9.53L-20-11.92L-17.5-14.8L-15-18.24L-12.5-22.27L-10-26.89L-7.5-32.08L-5-37.75L-2.5-43.78L0-50L2.5-56.22L5-62.25L7.5-67.92L10-73.11L12.5-77.73L15-81.76L17.5-85.2L20-88.08L22.5-90.47L25-92.41L27.5-93.99L30-95.26L35-97.07L40-98.2L50-99.33L60-99.75L80-99.97L400-100"/></g>
<g clip-path="url(#c12)"><path class="c" transform="matrix(.923 0 0 .37333 1196 209.33)" d="M-400 0L-80-.03L-60-.25L-50-.67L-40-1.8L-35-2.93L-30-4.74L-27.5-6.01L-25-7.59L-22.5-9.53L-20-11.92L-17.5-14.8L-15-18.24L-12.5-22.27L-10-26.89L-7.5-32.08L-5-37.75L-2.5-43.78L0-50L2.5-56.22L5-62.25L7.5-67.92L10-73.11L12.5-77.73L15-81.76L17.5-85.2L20-88.08L22.5-90.47L25-92.41L27.5-93.99L30-95.26L35-97.07L40-98.2L50-99.33L60-99.75L80-99.97L400-100"/></g>
<text class="st" x="206" y="162.3">Item.40</text><text class="st" x="288" y="162.3">Item.41</text><text class="st" x="370" y="162.3">Item.42</text><text class="st" x="452" y="162.3">Item.43</text><text class="st" x="534" y="162.3">Item.44</text><text class="st" x="616" y="162.3">Item.45</text><text class="st" x="698" y="162.3">Item.46</text><text class="st" x="780" y="162.3">Item.47</text><text class="st" x="862" y="162.3">Item.48</text><text class="st" x="944" y="162.3">Item.49</text><text class="st" x="1026" y="162.3">Item.50</text><text class="st" x="1108" y="162.3">Item.51</text><text class="st" x="1190" y="162.3">Item.52</text>
<path class="t" d="M149.5 218.67h15.5M149.5 209.33h15.5M149.5 200h15.5M149.5 190.67h15.5M149.5 181.33h15.5M149.5 172h15.5M1231 218.67h15.5M1231 209.33h15.5M1231 200h15.5M1231 190.67h15.5M1231 181.33h15.5M1231 172h15.5"/>
</g>

<!-- ROW 3: items 53-65 -->
<g transform="translate(0,250)">
<rect class="s" x="165" y="140" width="82" height="27.3"/><rect class="p" x="165" y="167.3" width="82" height="56.03"/>
<rect class="s" x="247" y="140" width="82" height="27.3"/><rect class="p" x="247" y="167.3" width="82" height="56.03"/>
<rect class="s" x="329" y="140" width="82" height="27.3"/><rect class="p" x="329" y="167.3" width="82" height="56.03"/>
<rect class="s" x="411" y="140" width="82" height="27.3"/><rect class="p" x="411" y="167.3" width="82" height="56.03"/>
<rect class="s" x="493" y="140" width="82" height="27.3"/><rect class="p" x="493" y="167.3" width="82" height="56.03"/>
<rect class="s" x="575" y="140" width="82" height="27.3"/><rect class="p" x="575" y="167.3" width="82" height="56.03"/>
<rect class="s" x="657" y="140" width="82" height="27.3"/><rect class="p" x="657" y="167.3" width="82" height="56.03"/>
<rect class="s" x="739" y="140" width="82" height="27.3"/><rect class="p" x="739" y="167.3" width="82" height="56.03"/>
<rect class="s" x="821" y="140" width="82" height="27.3"/><rect class="p" x="821" y="167.3" width="82" height="56.03"/>
<rect class="s" x="903" y="140" width="82" height="27.3"/><rect class="p" x="903" y="167.3" width="82" height="56.03"/>
<rect class="s" x="985" y="140" width="82" height="27.3"/><rect class="p" x="985" y="167.3" width="82" height="56.03"/>
<rect class="s" x="1067" y="140" width="82" height="27.3"/><rect class="p" x="1067" y="167.3" width="82" height="56.03"/>
<rect class="s" x="1149" y="140" width="82" height="27.3"/><rect class="p" x="1149" y="167.3" width="82" height="56.03"/>
<g clip-path="url(#c0)"><path class="c" transform="matrix(2.182 0 0 .37333 196.4 209.33)" d="M-400 0L-80-.03L-60-.25L-50-.67L-40-1.8L-35-2.93L-30-4.74L-27.5-6.01L-25-7.59L-22.5-9.53L-20-11.92L-17.5-14.8L-15-18.24L-12.5-22.27L-10-26.89L-7.5-32.08L-5-37.75L-2.5-43.78L0-50L2.5-56.22L5-62.25L7.5-67.92L10-73.11L12.5-77.73L15-81.76L17.5-85.2L20-88.08L22.5-90.47L25-92.41L27.5-93.99L30-95.26L35-97.07L40-98.2L50-99.33L60-99.75L80-99.97L400-100"/></g>
<g clip-path="url(#c1)"><path class="c" transform="matrix(.343 0 0 .37333 296.4 209.33)" d="M-400 0L-80-.03L-60-.25L-50-.67L-40-1.8L-35-2.93L-30-4.74L-27.5-6.01L-25-7.59L-22.5-9.53L-20-11.92L-17.5-14.8L-15-18.24L-12.5-22.27L-10-26.89L-7.5-32.08L-5-37.75L-2.5-43.78L0-50L2.5-56.22L5-62.25L7.5-67.92L10-73.11L12.5-77.73L15-81.76L17.5-85.2L20-88.08L22.5-90.47L25-92.41L27.5-93.99L30-95.26L35-97.07L40-98.2L50-99.33L60-99.75L80-99.97L400-100"/></g>
<g clip-path="url(#c2)"><path class="c" transform="matrix(.75 0 0 .37333 365.2 209.33)" d="M-400 0L-80-.03L-60-.25L-50-.67L-40-1.8L-35-2.93L-30-4.74L-27.5-6.01L-25-7.59L-22.5-9.53L-20-11.92L-17.5-14.8L-15-18.24L-12.5-22.27L-10-26.89L-7.5-32.08L-5-37.75L-2.5-43.78L0-50L2.5-56.22L5-62.25L7.5-67.92L10-73.11L12.5-77.73L15-81.76L17.5-85.2L20-88.08L22.5-90.47L25-92.41L27.5-93.99L30-95.26L35-97.07L40-98.2L50-99.33L60-99.75L80-99.97L400-100"/></g>
<g clip-path="url(#c3)"><path class="c" transform="matrix(1 0 0 .37333 452 209.33)" d="M-400 0L-80-.03L-60-.25L-50-.67L-40-1.8L-35-2.93L-30-4.74L-27.5-6.01L-25-7.59L-22.5-9.53L-20-11.92L-17.5-14.8L-15-18.24L-12.5-22.27L-10-26.89L-7.5-32.08L-5-37.75L-2.5-43.78L0-50L2.5-56.22L5-62.25L7.5-67.92L10-73.11L12.5-77.73L15-81.76L17.5-85.2L20-88.08L22.5-90.47L25-92.41L27.5-93.99L30-95.26L35-97.07L40-98.2L50-99.33L60-99.75L80-99.97L400-100"/></g>
<g clip-path="url(#c4)"><path class="c" transform="matrix(.857 0 0 .37333 540 209.33)" d="M-400 0L-80-.03L-60-.25L-50-.67L-40-1.8L-35-2.93L-30-4.74L-27.5-6.01L-25-7.59L-22.5-9.53L-20-11.92L-17.5-14.8L-15-18.24L-12.5-22.27L-10-26.89L-7.5-32.08L-5-37.75L-2.5-43.78L0-50L2.5-56.22L5-62.25L7.5-67.92L10-73.11L12.5-77.73L15-81.76L17.5-85.2L20-88.08L22.5-90.47L25-92.41L27.5-93.99L30-95.26L35-97.07L40-98.2L50-99.33L60-99.75L80-99.97L400-100"/></g>
<g clip-path="url(#c5)"><path class="c" transform="matrix(.923 0 0 .37333 618.4 209.33)" d="M-400 0L-80-.03L-60-.25L-50-.67L-40-1.8L-35-2.93L-30-4.74L-27.5-6.01L-25-7.59L-22.5-9.53L-20-11.92L-17.5-14.8L-15-18.24L-12.5-22.27L-10-26.89L-7.5-32.08L-5-37.75L-2.5-43.78L0-50L2.5-56.22L5-62.25L7.5-67.92L10-73.11L12.5-77.73L15-81.76L17.5-85.2L20-88.08L22.5-90.47L25-92.41L27.5-93.99L30-95.26L35-97.07L40-98.2L50-99.33L60-99.75L80-99.97L400-100"/></g>
<g clip-path="url(#c6)"><path class="c" transform="matrix(.8 0 0 .37333 698 209.33)" d="M-400 0L-80-.03L-60-.25L-50-.67L-40-1.8L-35-2.93L-30-4.74L-27.5-6.01L-25-7.59L-22.5-9.53L-20-11.92L-17.5-14.8L-15-18.24L-12.5-22.27L-10-26.89L-7.5-32.08L-5-37.75L-2.5-43.78L0-50L2.5-56.22L5-62.25L7.5-67.92L10-73.11L12.5-77.73L15-81.76L17.5-85.2L20-88.08L22.5-90.47L25-92.41L27.5-93.99L30-95.26L35-97.07L40-98.2L50-99.33L60-99.75L80-99.97L400-100"/></g>
<g clip-path="url(#c7)"><path class="c" transform="matrix(.8 0 0 .37333 783.6 209.33)" d="M-400 0L-80-.03L-60-.25L-50-.67L-40-1.8L-35-2.93L-30-4.74L-27.5-6.01L-25-7.59L-22.5-9.53L-20-11.92L-17.5-14.8L-15-18.24L-12.5-22.27L-10-26.89L-7.5-32.08L-5-37.75L-2.5-43.78L0-50L2.5-56.22L5-62.25L7.5-67.92L10-73.11L12.5-77.73L15-81.76L17.5-85.2L20-88.08L22.5-90.47L25-92.41L27.5-93.99L30-95.26L35-97.07L40-98.2L50-99.33L60-99.75L80-99.97L400-100"/></g>
<g clip-path="url(#c8)"><path class="c" transform="matrix(1.2 0 0 .37333 874.6 209.33)" d="M-400 0L-80-.03L-60-.25L-50-.67L-40-1.8L-35-2.93L-30-4.74L-27.5-6.01L-25-7.59L-22.5-9.53L-20-11.92L-17.5-14.8L-15-18.24L-12.5-22.27L-10-26.89L-7.5-32.08L-5-37.75L-2.5-43.78L0-50L2.5-56.22L5-62.25L7.5-67.92L10-73.11L12.5-77.73L15-81.76L17.5-85.2L20-88.08L22.5-90.47L25-92.41L27.5-93.99L30-95.26L35-97.07L40-98.2L50-99.33L60-99.75L80-99.97L400-100"/></g>
<g clip-path="url(#c9)"><path class="c" transform="matrix(1 0 0 .37333 948.8 209.33)" d="M-400 0L-80-.03L-60-.25L-50-.67L-40-1.8L-35-2.93L-30-4.74L-27.5-6.01L-25-7.59L-22.5-9.53L-20-11.92L-17.5-14.8L-15-18.24L-12.5-22.27L-10-26.89L-7.5-32.08L-5-37.75L-2.5-43.78L0-50L2.5-56.22L5-62.25L7.5-67.92L10-73.11L12.5-77.73L15-81.76L17.5-85.2L20-88.08L22.5-90.47L25-92.41L27.5-93.99L30-95.26L35-97.07L40-98.2L50-99.33L60-99.75L80-99.97L400-100"/></g>
<g clip-path="url(#c10)"><path class="c" transform="matrix(.75 0 0 .37333 1029.6 209.33)" d="M-400 0L-80-.03L-60-.25L-50-.67L-40-1.8L-35-2.93L-30-4.74L-27.5-6.01L-25-7.59L-22.5-9.53L-20-11.92L-17.5-14.8L-15-18.24L-12.5-22.27L-10-26.89L-7.5-32.08L-5-37.75L-2.5-43.78L0-50L2.5-56.22L5-62.25L7.5-67.92L10-73.11L12.5-77.73L15-81.76L17.5-85.2L20-88.08L22.5-90.47L25-92.41L27.5-93.99L30-95.26L35-97.07L40-98.2L50-99.33L60-99.75L80-99.97L400-100"/></g>
<g clip-path="url(#c11)"><path class="c" transform="matrix(.545 0 0 .37333 1118.8 209.33)" d="M-400 0L-80-.03L-60-.25L-50-.67L-40-1.8L-35-2.93L-30-4.74L-27.5-6.01L-25-7.59L-22.5-9.53L-20-11.92L-17.5-14.8L-15-18.24L-12.5-22.27L-10-26.89L-7.5-32.08L-5-37.75L-2.5-43.78L0-50L2.5-56.22L5-62.25L7.5-67.92L10-73.11L12.5-77.73L15-81.76L17.5-85.2L20-88.08L22.5-90.47L25-92.41L27.5-93.99L30-95.26L35-97.07L40-98.2L50-99.33L60-99.75L80-99.97L400-100"/></g>
<g clip-path="url(#c12)"><path class="c" transform="matrix(.706 0 0 .37333 1192.4 209.33)" d="M-400 0L-80-.03L-60-.25L-50-.67L-40-1.8L-35-2.93L-30-4.74L-27.5-6.01L-25-7.59L-22.5-9.53L-20-11.92L-17.5-14.8L-15-18.24L-12.5-22.27L-10-26.89L-7.5-32.08L-5-37.75L-2.5-43.78L0-50L2.5-56.22L5-62.25L7.5-67.92L10-73.11L12.5-77.73L15-81.76L17.5-85.2L20-88.08L22.5-90.47L25-92.41L27.5-93.99L30-95.26L35-97.07L40-98.2L50-99.33L60-99.75L80-99.97L400-100"/></g>
<text class="st" x="206" y="162.3">Item.53</text><text class="st" x="288" y="162.3">Item.54</text><text class="st" x="370" y="162.3">Item.55</text><text class="st" x="452" y="162.3">Item.56</text><text class="st" x="534" y="162.3">Item.57</text><text class="st" x="616" y="162.3">Item.58</text><text class="st" x="698" y="162.3">Item.59</text><text class="st" x="780" y="162.3">Item.60</text><text class="st" x="862" y="162.3">Item.61</text><text class="st" x="944" y="162.3">Item.62</text><text class="st" x="1026" y="162.3">Item.63</text><text class="st" x="1108" y="162.3">Item.64</text><text class="st" x="1190" y="162.3">Item.65</text>
<path class="t" d="M149.5 218.67h15.5M149.5 209.33h15.5M149.5 200h15.5M149.5 190.67h15.5M149.5 181.33h15.5M149.5 172h15.5M1231 218.67h15.5M1231 209.33h15.5M1231 200h15.5M1231 190.67h15.5M1231 181.33h15.5M1231 172h15.5"/>
</g>

<!-- ROW 2: items 66-78 -->
<g transform="translate(0,166.667)">
<rect class="s" x="165" y="140" width="82" height="27.3"/><rect class="p" x="165" y="167.3" width="82" height="56.03"/>
<rect class="s" x="247" y="140" width="82" height="27.3"/><rect class="p" x="247" y="167.3" width="82" height="56.03"/>
<rect class="s" x="329" y="140" width="82" height="27.3"/><rect class="p" x="329" y="167.3" width="82" height="56.03"/>
<rect class="s" x="411" y="140" width="82" height="27.3"/><rect class="p" x="411" y="167.3" width="82" height="56.03"/>
<rect class="s" x="493" y="140" width="82" height="27.3"/><rect class="p" x="493" y="167.3" width="82" height="56.03"/>
<rect class="s" x="575" y="140" width="82" height="27.3"/><rect class="p" x="575" y="167.3" width="82" height="56.03"/>
<rect class="s" x="657" y="140" width="82" height="27.3"/><rect class="p" x="657" y="167.3" width="82" height="56.03"/>
<rect class="s" x="739" y="140" width="82" height="27.3"/><rect class="p" x="739" y="167.3" width="82" height="56.03"/>
<rect class="s" x="821" y="140" width="82" height="27.3"/><rect class="p" x="821" y="167.3" width="82" height="56.03"/>
<rect class="s" x="903" y="140" width="82" height="27.3"/><rect class="p" x="903" y="167.3" width="82" height="56.03"/>
<rect class="s" x="985" y="140" width="82" height="27.3"/><rect class="p" x="985" y="167.3" width="82" height="56.03"/>
<rect class="s" x="1067" y="140" width="82" height="27.3"/><rect class="p" x="1067" y="167.3" width="82" height="56.03"/>
<rect class="s" x="1149" y="140" width="82" height="27.3"/><rect class="p" x="1149" y="167.3" width="82" height="56.03"/>
<g clip-path="url(#c0)"><path class="c" transform="matrix(.6 0 0 .37333 202.4 209.33)" d="M-400 0L-80-.03L-60-.25L-50-.67L-40-1.8L-35-2.93L-30-4.74L-27.5-6.01L-25-7.59L-22.5-9.53L-20-11.92L-17.5-14.8L-15-18.24L-12.5-22.27L-10-26.89L-7.5-32.08L-5-37.75L-2.5-43.78L0-50L2.5-56.22L5-62.25L7.5-67.92L10-73.11L12.5-77.73L15-81.76L17.5-85.2L20-88.08L22.5-90.47L25-92.41L27.5-93.99L30-95.26L35-97.07L40-98.2L50-99.33L60-99.75L80-99.97L400-100"/></g>
<g clip-path="url(#c1)"><path class="c" transform="matrix(1.333 0 0 .37333 307.2 209.33)" d="M-400 0L-80-.03L-60-.25L-50-.67L-40-1.8L-35-2.93L-30-4.74L-27.5-6.01L-25-7.59L-22.5-9.53L-20-11.92L-17.5-14.8L-15-18.24L-12.5-22.27L-10-26.89L-7.5-32.08L-5-37.75L-2.5-43.78L0-50L2.5-56.22L5-62.25L7.5-67.92L10-73.11L12.5-77.73L15-81.76L17.5-85.2L20-88.08L22.5-90.47L25-92.41L27.5-93.99L30-95.26L35-97.07L40-98.2L50-99.33L60-99.75L80-99.97L400-100"/></g>
<g clip-path="url(#c2)"><path class="c" transform="matrix(.923 0 0 .37333 365.2 209.33)" d="M-400 0L-80-.03L-60-.25L-50-.67L-40-1.8L-35-2.93L-30-4.74L-27.5-6.01L-25-7.59L-22.5-9.53L-20-11.92L-17.5-14.8L-15-18.24L-12.5-22.27L-10-26.89L-7.5-32.08L-5-37.75L-2.5-43.78L0-50L2.5-56.22L5-62.25L7.5-67.92L10-73.11L12.5-77.73L15-81.76L17.5-85.2L20-88.08L22.5-90.47L25-92.41L27.5-93.99L30-95.26L35-97.07L40-98.2L50-99.33L60-99.75L80-99.97L400-100"/></g>
<g clip-path="url(#c3)"><path class="c" transform="matrix(1 0 0 .37333 458 209.33)" d="M-400 0L-80-.03L-60-.25L-50-.67L-40-1.8L-35-2.93L-30-4.74L-27.5-6.01L-25-7.59L-22.5-9.53L-20-11.92L-17.5-14.8L-15-18.24L-12.5-22.27L-10-26.89L-7.5-32.08L-5-37.75L-2.5-43.78L0-50L2.5-56.22L5-62.25L7.5-67.92L10-73.11L12.5-77.73L15-81.76L17.5-85.2L20-88.08L22.5-90.47L25-92.41L27.5-93.99L30-95.26L35-97.07L40-98.2L50-99.33L60-99.75L80-99.97L400-100"/></g>
<g clip-path="url(#c4)"><path class="c" transform="matrix(.48 0 0 .37333 536.4 209.33)" d="M-400 0L-80-.03L-60-.25L-50-.67L-40-1.8L-35-2.93L-30-4.74L-27.5-6.01L-25-7.59L-22.5-9.53L-20-11.92L-17.5-14.8L-15-18.24L-12.5-22.27L-10-26.89L-7.5-32.08L-5-37.75L-2.5-43.78L0-50L2.5-56.22L5-62.25L7.5-67.92L10-73.11L12.5-77.73L15-81.76L17.5-85.2L20-88.08L22.5-90.47L25-92.41L27.5-93.99L30-95.26L35-97.07L40-98.2L50-99.33L60-99.75L80-99.97L400-100"/></g>
<g clip-path="url(#c5)"><path class="c" transform="matrix(.706 0 0 .37333 610 209.33)" d="M-400 0L-80-.03L-60-.25L-50-.67L-40-1.8L-35-2.93L-30-4.74L-27.5-6.01L-25-7.59L-22.5-9.53L-20-11.92L-17.5-14.8L-15-18.24L-12.5-22.27L-10-26.89L-7.5-32.08L-5-37.75L-2.5-43.78L0-50L2.5-56.22L5-62.25L7.5-67.92L10-73.11L12.5-77.73L15-81.76L17.5-85.2L20-88.08L22.5-90.47L25-92.41L27.5-93.99L30-95.26L35-97.07L40-98.2L50-99.33L60-99.75L80-99.97L400-100"/></g>
<g clip-path="url(#c6)"><path class="c" transform="matrix(1.333 0 0 .37333 691.4 209.33)" d="M-400 0L-80-.03L-60-.25L-50-.67L-40-1.8L-35-2.93L-30-4.74L-27.5-6.01L-25-7.59L-22.5-9.53L-20-11.92L-17.5-14.8L-15-18.24L-12.5-22.27L-10-26.89L-7.5-32.08L-5-37.75L-2.5-43.78L0-50L2.5-56.22L5-62.25L7.5-67.92L10-73.11L12.5-77.73L15-81.76L17.5-85.2L20-88.08L22.5-90.47L25-92.41L27.5-93.99L30-95.26L35-97.07L40-98.2L50-99.33L60-99.75L80-99.97L400-100"/></g>
<g clip-path="url(#c7)"><path class="c" transform="matrix(1.333 0 0 .37333 773.4 209.33)" d="M-400 0L-80-.03L-60-.25L-50-.67L-40-1.8L-35-2.93L-30-4.74L-27.5-6.01L-25-7.59L-22.5-9.53L-20-11.92L-17.5-14.8L-15-18.24L-12.5-22.27L-10-26.89L-7.5-32.08L-5-37.75L-2.5-43.78L0-50L2.5-56.22L5-62.25L7.5-67.92L10-73.11L12.5-77.73L15-81.76L17.5-85.2L20-88.08L22.5-90.47L25-92.41L27.5-93.99L30-95.26L35-97.07L40-98.2L50-99.33L60-99.75L80-99.97L400-100"/></g>
<g clip-path="url(#c8)"><path class="c" transform="matrix(.8 0 0 .37333 858.4 209.33)" d="M-400 0L-80-.03L-60-.25L-50-.67L-40-1.8L-35-2.93L-30-4.74L-27.5-6.01L-25-7.59L-22.5-9.53L-20-11.92L-17.5-14.8L-15-18.24L-12.5-22.27L-10-26.89L-7.5-32.08L-5-37.75L-2.5-43.78L0-50L2.5-56.22L5-62.25L7.5-67.92L10-73.11L12.5-77.73L15-81.76L17.5-85.2L20-88.08L22.5-90.47L25-92.41L27.5-93.99L30-95.26L35-97.07L40-98.2L50-99.33L60-99.75L80-99.97L400-100"/></g>
<g clip-path="url(#c9)"><path class="c" transform="matrix(.8 0 0 .37333 946.4 209.33)" d="M-400 0L-80-.03L-60-.25L-50-.67L-40-1.8L-35-2.93L-30-4.74L-27.5-6.01L-25-7.59L-22.5-9.53L-20-11.92L-17.5-14.8L-15-18.24L-12.5-22.27L-10-26.89L-7.5-32.08L-5-37.75L-2.5-43.78L0-50L2.5-56.22L5-62.25L7.5-67.92L10-73.11L12.5-77.73L15-81.76L17.5-85.2L20-88.08L22.5-90.47L25-92.41L27.5-93.99L30-95.26L35-97.07L40-98.2L50-99.33L60-99.75L80-99.97L400-100"/></g>
<g clip-path="url(#c10)"><path class="c" transform="matrix(.75 0 0 .37333 1032 209.33)" d="M-400 0L-80-.03L-60-.25L-50-.67L-40-1.8L-35-2.93L-30-4.74L-27.5-6.01L-25-7.59L-22.5-9.53L-20-11.92L-17.5-14.8L-15-18.24L-12.5-22.27L-10-26.89L-7.5-32.08L-5-37.75L-2.5-43.78L0-50L2.5-56.22L5-62.25L7.5-67.92L10-73.11L12.5-77.73L15-81.76L17.5-85.2L20-88.08L22.5-90.47L25-92.41L27.5-93.99L30-95.26L35-97.07L40-98.2L50-99.33L60-99.75L80-99.97L400-100"/></g>
<g clip-path="url(#c11)"><path class="c" transform="matrix(.6667 0 0 .37333 1115.2 209.33)" d="M-400 0L-80-.03L-60-.25L-50-.67L-40-1.8L-35-2.93L-30-4.74L-27.5-6.01L-25-7.59L-22.5-9.53L-20-11.92L-17.5-14.8L-15-18.24L-12.5-22.27L-10-26.89L-7.5-32.08L-5-37.75L-2.5-43.78L0-50L2.5-56.22L5-62.25L7.5-67.92L10-73.11L12.5-77.73L15-81.76L17.5-85.2L20-88.08L22.5-90.47L25-92.41L27.5-93.99L30-95.26L35-97.07L40-98.2L50-99.33L60-99.75L80-99.97L400-100"/></g>
<g clip-path="url(#c12)"><path class="c" transform="matrix(.857 0 0 .37333 1199.6 209.33)" d="M-400 0L-80-.03L-60-.25L-50-.67L-40-1.8L-35-2.93L-30-4.74L-27.5-6.01L-25-7.59L-22.5-9.53L-20-11.92L-17.5-14.8L-15-18.24L-12.5-22.27L-10-26.89L-7.5-32.08L-5-37.75L-2.5-43.78L0-50L2.5-56.22L5-62.25L7.5-67.92L10-73.11L12.5-77.73L15-81.76L17.5-85.2L20-88.08L22.5-90.47L25-92.41L27.5-93.99L30-95.26L35-97.07L40-98.2L50-99.33L60-99.75L80-99.97L400-100"/></g>
<text class="st" x="206" y="162.3">Item.66</text><text class="st" x="288" y="162.3">Item.67</text><text class="st" x="370" y="162.3">Item.68</text><text class="st" x="452" y="162.3">Item.69</text><text class="st" x="534" y="162.3">Item.70</text><text class="st" x="616" y="162.3">Item.71</text><text class="st" x="698" y="162.3">Item.72</text><text class="st" x="780" y="162.3">Item.73</text><text class="st" x="862" y="162.3">Item.74</text><text class="st" x="944" y="162.3">Item.75</text><text class="st" x="1026" y="162.3">Item.76</text><text class="st" x="1108" y="162.3">Item.77</text><text class="st" x="1190" y="162.3">Item.78</text>
<path class="t" d="M149.5 218.67h15.5M149.5 209.33h15.5M149.5 200h15.5M149.5 190.67h15.5M149.5 181.33h15.5M149.5 172h15.5M1231 218.67h15.5M1231 209.33h15.5M1231 200h15.5M1231 190.67h15.5M1231 181.33h15.5M1231 172h15.5"/>
</g>

<!-- ROW 1: items 79-91 -->
<g transform="translate(0,83.333)">
<rect class="s" x="165" y="140" width="82" height="27.3"/><rect class="p" x="165" y="167.3" width="82" height="56.03"/>
<rect class="s" x="247" y="140" width="82" height="27.3"/><rect class="p" x="247" y="167.3" width="82" height="56.03"/>
<rect class="s" x="329" y="140" width="82" height="27.3"/><rect class="p" x="329" y="167.3" width="82" height="56.03"/>
<rect class="s" x="411" y="140" width="82" height="27.3"/><rect class="p" x="411" y="167.3" width="82" height="56.03"/>
<rect class="s" x="493" y="140" width="82" height="27.3"/><rect class="p" x="493" y="167.3" width="82" height="56.03"/>
<rect class="s" x="575" y="140" width="82" height="27.3"/><rect class="p" x="575" y="167.3" width="82" height="56.03"/>
<rect class="s" x="657" y="140" width="82" height="27.3"/><rect class="p" x="657" y="167.3" width="82" height="56.03"/>
<rect class="s" x="739" y="140" width="82" height="27.3"/><rect class="p" x="739" y="167.3" width="82" height="56.03"/>
<rect class="s" x="821" y="140" width="82" height="27.3"/><rect class="p" x="821" y="167.3" width="82" height="56.03"/>
<rect class="s" x="903" y="140" width="82" height="27.3"/><rect class="p" x="903" y="167.3" width="82" height="56.03"/>
<rect class="s" x="985" y="140" width="82" height="27.3"/><rect class="p" x="985" y="167.3" width="82" height="56.03"/>
<rect class="s" x="1067" y="140" width="82" height="27.3"/><rect class="p" x="1067" y="167.3" width="82" height="56.03"/>
<rect class="s" x="1149" y="140" width="82" height="27.3"/><rect class="p" x="1149" y="167.3" width="82" height="56.03"/>
<g clip-path="url(#c0)"><path class="c" transform="matrix(.6667 0 0 .37333 203.6 209.33)" d="M-400 0L-80-.03L-60-.25L-50-.67L-40-1.8L-35-2.93L-30-4.74L-27.5-6.01L-25-7.59L-22.5-9.53L-20-11.92L-17.5-14.8L-15-18.24L-12.5-22.27L-10-26.89L-7.5-32.08L-5-37.75L-2.5-43.78L0-50L2.5-56.22L5-62.25L7.5-67.92L10-73.11L12.5-77.73L15-81.76L17.5-85.2L20-88.08L22.5-90.47L25-92.41L27.5-93.99L30-95.26L35-97.07L40-98.2L50-99.33L60-99.75L80-99.97L400-100"/></g>
<g clip-path="url(#c1)"><path class="c" transform="matrix(1.2 0 0 .37333 300 209.33)" d="M-400 0L-80-.03L-60-.25L-50-.67L-40-1.8L-35-2.93L-30-4.74L-27.5-6.01L-25-7.59L-22.5-9.53L-20-11.92L-17.5-14.8L-15-18.24L-12.5-22.27L-10-26.89L-7.5-32.08L-5-37.75L-2.5-43.78L0-50L2.5-56.22L5-62.25L7.5-67.92L10-73.11L12.5-77.73L15-81.76L17.5-85.2L20-88.08L22.5-90.47L25-92.41L27.5-93.99L30-95.26L35-97.07L40-98.2L50-99.33L60-99.75L80-99.97L400-100"/></g>
<g clip-path="url(#c2)"><path class="c" transform="matrix(.75 0 0 .37333 372.4 209.33)" d="M-400 0L-80-.03L-60-.25L-50-.67L-40-1.8L-35-2.93L-30-4.74L-27.5-6.01L-25-7.59L-22.5-9.53L-20-11.92L-17.5-14.8L-15-18.24L-12.5-22.27L-10-26.89L-7.5-32.08L-5-37.75L-2.5-43.78L0-50L2.5-56.22L5-62.25L7.5-67.92L10-73.11L12.5-77.73L15-81.76L17.5-85.2L20-88.08L22.5-90.47L25-92.41L27.5-93.99L30-95.26L35-97.07L40-98.2L50-99.33L60-99.75L80-99.97L400-100"/></g>
<g clip-path="url(#c3)"><path class="c" transform="matrix(1.091 0 0 .37333 466.4 209.33)" d="M-400 0L-80-.03L-60-.25L-50-.67L-40-1.8L-35-2.93L-30-4.74L-27.5-6.01L-25-7.59L-22.5-9.53L-20-11.92L-17.5-14.8L-15-18.24L-12.5-22.27L-10-26.89L-7.5-32.08L-5-37.75L-2.5-43.78L0-50L2.5-56.22L5-62.25L7.5-67.92L10-73.11L12.5-77.73L15-81.76L17.5-85.2L20-88.08L22.5-90.47L25-92.41L27.5-93.99L30-95.26L35-97.07L40-98.2L50-99.33L60-99.75L80-99.97L400-100"/></g>
<g clip-path="url(#c4)"><path class="c" transform="matrix(1.091 0 0 .37333 519.6 209.33)" d="M-400 0L-80-.03L-60-.25L-50-.67L-40-1.8L-35-2.93L-30-4.74L-27.5-6.01L-25-7.59L-22.5-9.53L-20-11.92L-17.5-14.8L-15-18.24L-12.5-22.27L-10-26.89L-7.5-32.08L-5-37.75L-2.5-43.78L0-50L2.5-56.22L5-62.25L7.5-67.92L10-73.11L12.5-77.73L15-81.76L17.5-85.2L20-88.08L22.5-90.47L25-92.41L27.5-93.99L30-95.26L35-97.07L40-98.2L50-99.33L60-99.75L80-99.97L400-100"/></g>
<g clip-path="url(#c5)"><path class="c" transform="matrix(1.5 0 0 .37333 599.2 209.33)" d="M-400 0L-80-.03L-60-.25L-50-.67L-40-1.8L-35-2.93L-30-4.74L-27.5-6.01L-25-7.59L-22.5-9.53L-20-11.92L-17.5-14.8L-15-18.24L-12.5-22.27L-10-26.89L-7.5-32.08L-5-37.75L-2.5-43.78L0-50L2.5-56.22L5-62.25L7.5-67.92L10-73.11L12.5-77.73L15-81.76L17.5-85.2L20-88.08L22.5-90.47L25-92.41L27.5-93.99L30-95.26L35-97.07L40-98.2L50-99.33L60-99.75L80-99.97L400-100"/></g>
<g clip-path="url(#c6)"><path class="c" transform="matrix(1.304 0 0 .37333 704 209.33)" d="M-400 0L-80-.03L-60-.25L-50-.67L-40-1.8L-35-2.93L-30-4.74L-27.5-6.01L-25-7.59L-22.5-9.53L-20-11.92L-17.5-14.8L-15-18.24L-12.5-22.27L-10-26.89L-7.5-32.08L-5-37.75L-2.5-43.78L0-50L2.5-56.22L5-62.25L7.5-67.92L10-73.11L12.5-77.73L15-81.76L17.5-85.2L20-88.08L22.5-90.47L25-92.41L27.5-93.99L30-95.26L35-97.07L40-98.2L50-99.33L60-99.75L80-99.97L400-100"/></g>
<g clip-path="url(#c7)"><path class="c" transform="matrix(1.333 0 0 .37333 756 209.33)" d="M-400 0L-80-.03L-60-.25L-50-.67L-40-1.8L-35-2.93L-30-4.74L-27.5-6.01L-25-7.59L-22.5-9.53L-20-11.92L-17.5-14.8L-15-18.24L-12.5-22.27L-10-26.89L-7.5-32.08L-5-37.75L-2.5-43.78L0-50L2.5-56.22L5-62.25L7.5-67.92L10-73.11L12.5-77.73L15-81.76L17.5-85.2L20-88.08L22.5-90.47L25-92.41L27.5-93.99L30-95.26L35-97.07L40-98.2L50-99.33L60-99.75L80-99.97L400-100"/></g>
<g clip-path="url(#c8)"><path class="c" transform="matrix(1 0 0 .37333 864.4 209.33)" d="M-400 0L-80-.03L-60-.25L-50-.67L-40-1.8L-35-2.93L-30-4.74L-27.5-6.01L-25-7.59L-22.5-9.53L-20-11.92L-17.5-14.8L-15-18.24L-12.5-22.27L-10-26.89L-7.5-32.08L-5-37.75L-2.5-43.78L0-50L2.5-56.22L5-62.25L7.5-67.92L10-73.11L12.5-77.73L15-81.76L17.5-85.2L20-88.08L22.5-90.47L25-92.41L27.5-93.99L30-95.26L35-97.07L40-98.2L50-99.33L60-99.75L80-99.97L400-100"/></g>
<g clip-path="url(#c9)"><path class="c" transform="matrix(.706 0 0 .37333 944 209.33)" d="M-400 0L-80-.03L-60-.25L-50-.67L-40-1.8L-35-2.93L-30-4.74L-27.5-6.01L-25-7.59L-22.5-9.53L-20-11.92L-17.5-14.8L-15-18.24L-12.5-22.27L-10-26.89L-7.5-32.08L-5-37.75L-2.5-43.78L0-50L2.5-56.22L5-62.25L7.5-67.92L10-73.11L12.5-77.73L15-81.76L17.5-85.2L20-88.08L22.5-90.47L25-92.41L27.5-93.99L30-95.26L35-97.07L40-98.2L50-99.33L60-99.75L80-99.97L400-100"/></g>
<g clip-path="url(#c10)"><path class="c" transform="matrix(.6667 0 0 .37333 1029.6 209.33)" d="M-400 0L-80-.03L-60-.25L-50-.67L-40-1.8L-35-2.93L-30-4.74L-27.5-6.01L-25-7.59L-22.5-9.53L-20-11.92L-17.5-14.8L-15-18.24L-12.5-22.27L-10-26.89L-7.5-32.08L-5-37.75L-2.5-43.78L0-50L2.5-56.22L5-62.25L7.5-67.92L10-73.11L12.5-77.73L15-81.76L17.5-85.2L20-88.08L22.5-90.47L25-92.41L27.5-93.99L30-95.26L35-97.07L40-98.2L50-99.33L60-99.75L80-99.97L400-100"/></g>
<g clip-path="url(#c11)"><path class="c" transform="matrix(1.429 0 0 .37333 1114.4 209.33)" d="M-400 0L-80-.03L-60-.25L-50-.67L-40-1.8L-35-2.93L-30-4.74L-27.5-6.01L-25-7.59L-22.5-9.53L-20-11.92L-17.5-14.8L-15-18.24L-12.5-22.27L-10-26.89L-7.5-32.08L-5-37.75L-2.5-43.78L0-50L2.5-56.22L5-62.25L7.5-67.92L10-73.11L12.5-77.73L15-81.76L17.5-85.2L20-88.08L22.5-90.47L25-92.41L27.5-93.99L30-95.26L35-97.07L40-98.2L50-99.33L60-99.75L80-99.97L400-100"/></g>
<g clip-path="url(#c12)"><path class="c" transform="matrix(.857 0 0 .37333 1196 209.33)" d="M-400 0L-80-.03L-60-.25L-50-.67L-40-1.8L-35-2.93L-30-4.74L-27.5-6.01L-25-7.59L-22.5-9.53L-20-11.92L-17.5-14.8L-15-18.24L-12.5-22.27L-10-26.89L-7.5-32.08L-5-37.75L-2.5-43.78L0-50L2.5-56.22L5-62.25L7.5-67.92L10-73.11L12.5-77.73L15-81.76L17.5-85.2L20-88.08L22.5-90.47L25-92.41L27.5-93.99L30-95.26L35-97.07L40-98.2L50-99.33L60-99.75L80-99.97L400-100"/></g>
<text class="st" x="206" y="162.3">Item.79</text><text class="st" x="288" y="162.3">Item.80</text><text class="st" x="370" y="162.3">Item.81</text><text class="st" x="452" y="162.3">Item.82</text><text class="st" x="534" y="162.3">Item.83</text><text class="st" x="616" y="162.3">Item.84</text><text class="st" x="698" y="162.3">Item.85</text><text class="st" x="780" y="162.3">Item.86</text><text class="st" x="862" y="162.3">Item.87</text><text class="st" x="944" y="162.3">Item.88</text><text class="st" x="1026" y="162.3">Item.89</text><text class="st" x="1108" y="162.3">Item.90</text><text class="st" x="1190" y="162.3">Item.91</text>
<path class="t" d="M149.5 218.67h15.5M149.5 209.33h15.5M149.5 200h15.5M149.5 190.67h15.5M149.5 181.33h15.5M149.5 172h15.5M1231 218.67h15.5M1231 209.33h15.5M1231 200h15.5M1231 190.67h15.5M1231 181.33h15.5M1231 172h15.5"/>
</g>

<!-- ROW 0: items 92-100 -->
<g>
<rect class="s" x="165" y="140" width="82" height="27.3"/><rect class="p" x="165" y="167.3" width="82" height="56.03"/>
<rect class="s" x="247" y="140" width="82" height="27.3"/><rect class="p" x="247" y="167.3" width="82" height="56.03"/>
<rect class="s" x="329" y="140" width="82" height="27.3"/><rect class="p" x="329" y="167.3" width="82" height="56.03"/>
<rect class="s" x="411" y="140" width="82" height="27.3"/><rect class="p" x="411" y="167.3" width="82" height="56.03"/>
<rect class="s" x="493" y="140" width="82" height="27.3"/><rect class="p" x="493" y="167.3" width="82" height="56.03"/>
<rect class="s" x="575" y="140" width="82" height="27.3"/><rect class="p" x="575" y="167.3" width="82" height="56.03"/>
<rect class="s" x="657" y="140" width="82" height="27.3"/><rect class="p" x="657" y="167.3" width="82" height="56.03"/>
<rect class="s" x="739" y="140" width="82" height="27.3"/><rect class="p" x="739" y="167.3" width="82" height="56.03"/>
<rect class="s" x="821" y="140" width="82" height="27.3"/><rect class="p" x="821" y="167.3" width="82" height="56.03"/>
<g clip-path="url(#c0)"><path class="c" transform="matrix(.6 0 0 .37333 208.4 209.33)" d="M-400 0L-80-.03L-60-.25L-50-.67L-40-1.8L-35-2.93L-30-4.74L-27.5-6.01L-25-7.59L-22.5-9.53L-20-11.92L-17.5-14.8L-15-18.24L-12.5-22.27L-10-26.89L-7.5-32.08L-5-37.75L-2.5-43.78L0-50L2.5-56.22L5-62.25L7.5-67.92L10-73.11L12.5-77.73L15-81.76L17.5-85.2L20-88.08L22.5-90.47L25-92.41L27.5-93.99L30-95.26L35-97.07L40-98.2L50-99.33L60-99.75L80-99.97L400-100"/></g>
<g clip-path="url(#c1)"><path class="c" transform="matrix(.923 0 0 .37333 294 209.33)" d="M-400 0L-80-.03L-60-.25L-50-.67L-40-1.8L-35-2.93L-30-4.74L-27.5-6.01L-25-7.59L-22.5-9.53L-20-11.92L-17.5-14.8L-15-18.24L-12.5-22.27L-10-26.89L-7.5-32.08L-5-37.75L-2.5-43.78L0-50L2.5-56.22L5-62.25L7.5-67.92L10-73.11L12.5-77.73L15-81.76L17.5-85.2L20-88.08L22.5-90.47L25-92.41L27.5-93.99L30-95.26L35-97.07L40-98.2L50-99.33L60-99.75L80-99.97L400-100"/></g>
<g clip-path="url(#c2)"><path class="c" transform="matrix(1.091 0 0 .37333 355.6 209.33)" d="M-400 0L-80-.03L-60-.25L-50-.67L-40-1.8L-35-2.93L-30-4.74L-27.5-6.01L-25-7.59L-22.5-9.53L-20-11.92L-17.5-14.8L-15-18.24L-12.5-22.27L-10-26.89L-7.5-32.08L-5-37.75L-2.5-43.78L0-50L2.5-56.22L5-62.25L7.5-67.92L10-73.11L12.5-77.73L15-81.76L17.5-85.2L20-88.08L22.5-90.47L25-92.41L27.5-93.99L30-95.26L35-97.07L40-98.2L50-99.33L60-99.75L80-99.97L400-100"/></g>
<g clip-path="url(#c3)"><path class="c" transform="matrix(.923 0 0 .37333 455.6 209.33)" d="M-400 0L-80-.03L-60-.25L-50-.67L-40-1.8L-35-2.93L-30-4.74L-27.5-6.01L-25-7.59L-22.5-9.53L-20-11.92L-17.5-14.8L-15-18.24L-12.5-22.27L-10-26.89L-7.5-32.08L-5-37.75L-2.5-43.78L0-50L2.5-56.22L5-62.25L7.5-67.92L10-73.11L12.5-77.73L15-81.76L17.5-85.2L20-88.08L22.5-90.47L25-92.41L27.5-93.99L30-95.26L35-97.07L40-98.2L50-99.33L60-99.75L80-99.97L400-100"/></g>
<g clip-path="url(#c4)"><path class="c" transform="matrix(.6 0 0 .37333 534 209.33)" d="M-400 0L-80-.03L-60-.25L-50-.67L-40-1.8L-35-2.93L-30-4.74L-27.5-6.01L-25-7.59L-22.5-9.53L-20-11.92L-17.5-14.8L-15-18.24L-12.5-22.27L-10-26.89L-7.5-32.08L-5-37.75L-2.5-43.78L0-50L2.5-56.22L5-62.25L7.5-67.92L10-73.11L12.5-77.73L15-81.76L17.5-85.2L20-88.08L22.5-90.47L25-92.41L27.5-93.99L30-95.26L35-97.07L40-98.2L50-99.33L60-99.75L80-99.97L400-100"/></g>
<g clip-path="url(#c5)"><path class="c" transform="matrix(.545 0 0 .37333 619.6 209.33)" d="M-400 0L-80-.03L-60-.25L-50-.67L-40-1.8L-35-2.93L-30-4.74L-27.5-6.01L-25-7.59L-22.5-9.53L-20-11.92L-17.5-14.8L-15-18.24L-12.5-22.27L-10-26.89L-7.5-32.08L-5-37.75L-2.5-43.78L0-50L2.5-56.22L5-62.25L7.5-67.92L10-73.11L12.5-77.73L15-81.76L17.5-85.2L20-88.08L22.5-90.47L25-92.41L27.5-93.99L30-95.26L35-97.07L40-98.2L50-99.33L60-99.75L80-99.97L400-100"/></g>
<g clip-path="url(#c6)"><path class="c" transform="matrix(.8 0 0 .37333 694.4 209.33)" d="M-400 0L-80-.03L-60-.25L-50-.67L-40-1.8L-35-2.93L-30-4.74L-27.5-6.01L-25-7.59L-22.5-9.53L-20-11.92L-17.5-14.8L-15-18.24L-12.5-22.27L-10-26.89L-7.5-32.08L-5-37.75L-2.5-43.78L0-50L2.5-56.22L5-62.25L7.5-67.92L10-73.11L12.5-77.73L15-81.76L17.5-85.2L20-88.08L22.5-90.47L25-92.41L27.5-93.99L30-95.26L35-97.07L40-98.2L50-99.33L60-99.75L80-99.97L400-100"/></g>
<g clip-path="url(#c7)"><path class="c" transform="matrix(1.6 0 0 .37333 769.2 209.33)" d="M-400 0L-80-.03L-60-.25L-50-.67L-40-1.8L-35-2.93L-30-4.74L-27.5-6.01L-25-7.59L-22.5-9.53L-20-11.92L-17.5-14.8L-15-18.24L-12.5-22.27L-10-26.89L-7.5-32.08L-5-37.75L-2.5-43.78L0-50L2.5-56.22L5-62.25L7.5-67.92L10-73.11L12.5-77.73L15-81.76L17.5-85.2L20-88.08L22.5-90.47L25-92.41L27.5-93.99L30-95.26L35-97.07L40-98.2L50-99.33L60-99.75L80-99.97L400-100"/></g>
<g clip-path="url(#c8)"><path class="c" transform="matrix(1.2 0 0 .37333 853.6 209.33)" d="M-400 0L-80-.03L-60-.25L-50-.67L-40-1.8L-35-2.93L-30-4.74L-27.5-6.01L-25-7.59L-22.5-9.53L-20-11.92L-17.5-14.8L-15-18.24L-12.5-22.27L-10-26.89L-7.5-32.08L-5-37.75L-2.5-43.78L0-50L2.5-56.22L5-62.25L7.5-67.92L10-73.11L12.5-77.73L15-81.76L17.5-85.2L20-88.08L22.5-90.47L25-92.41L27.5-93.99L30-95.26L35-97.07L40-98.2L50-99.33L60-99.75L80-99.97L400-100"/></g>
<text class="st" x="206" y="162.3">Item.92</text><text class="st" x="288" y="162.3">Item.93</text><text class="st" x="370" y="162.3">Item.94</text><text class="st" x="452" y="162.3">Item.95</text><text class="st" x="534" y="162.3">Item.96</text><text class="st" x="616" y="162.3">Item.97</text><text class="st" x="698" y="162.3">Item.98</text><text class="st" x="780" y="162.3">Item.99</text><text class="st" x="862" y="162.3" clip-path="url(#s100)">Item.100</text>
<path class="t" d="M149.5 218.67h15.5M149.5 209.33h15.5M149.5 200h15.5M149.5 190.67h15.5M149.5 181.33h15.5M149.5 172h15.5M903 218.67h15.5M903 209.33h15.5M903 200h15.5M903 190.67h15.5M903 181.33h15.5M903 172h15.5"/>
</g>

<!-- top ticks (cols 0-8) -->
<path class="t" d="M170 124.5v15.5M182 124.5v15.5M194 124.5v15.5M206 124.5v15.5M218 124.5v15.5M230 124.5v15.5M242 124.5v15.5M252 124.5v15.5M264 124.5v15.5M276 124.5v15.5M288 124.5v15.5M300 124.5v15.5M312 124.5v15.5M324 124.5v15.5M334 124.5v15.5M346 124.5v15.5M358 124.5v15.5M370 124.5v15.5M382 124.5v15.5M394 124.5v15.5M406 124.5v15.5M416 124.5v15.5M428 124.5v15.5M440 124.5v15.5M452 124.5v15.5M464 124.5v15.5M476 124.5v15.5M488 124.5v15.5M498 124.5v15.5M510 124.5v15.5M522 124.5v15.5M534 124.5v15.5M546 124.5v15.5M558 124.5v15.5M570 124.5v15.5M580 124.5v15.5M592 124.5v15.5M604 124.5v15.5M616 124.5v15.5M628 124.5v15.5M640 124.5v15.5M652 124.5v15.5M662 124.5v15.5M674 124.5v15.5M686 124.5v15.5M698 124.5v15.5M710 124.5v15.5M722 124.5v15.5M734 124.5v15.5M744 124.5v15.5M756 124.5v15.5M768 124.5v15.5M780 124.5v15.5M792 124.5v15.5M804 124.5v15.5M816 124.5v15.5M826 124.5v15.5M838 124.5v15.5M850 124.5v15.5M862 124.5v15.5M874 124.5v15.5M886 124.5v15.5M898 124.5v15.5"/>
<!-- bottom ticks (cols 0-12) -->
<path class="t" d="M170 806.67v15.5M182 806.67v15.5M194 806.67v15.5M206 806.67v15.5M218 806.67v15.5M230 806.67v15.5M242 806.67v15.5M252 806.67v15.5M264 806.67v15.5M276 806.67v15.5M288 806.67v15.5M300 806.67v15.5M312 806.67v15.5M324 806.67v15.5M334 806.67v15.5M346 806.67v15.5M358 806.67v15.5M370 806.67v15.5M382 806.67v15.5M394 806.67v15.5M406 806.67v15.5M416 806.67v15.5M428 806.67v15.5M440 806.67v15.5M452 806.67v15.5M464 806.67v15.5M476 806.67v15.5M488 806.67v15.5M498 806.67v15.5M510 806.67v15.5M522 806.67v15.5M534 806.67v15.5M546 806.67v15.5M558 806.67v15.5M570 806.67v15.5M580 806.67v15.5M592 806.67v15.5M604 806.67v15.5M616 806.67v15.5M628 806.67v15.5M640 806.67v15.5M652 806.67v15.5M662 806.67v15.5M674 806.67v15.5M686 806.67v15.5M698 806.67v15.5M710 806.67v15.5M722 806.67v15.5M734 806.67v15.5M744 806.67v15.5M756 806.67v15.5M768 806.67v15.5M780 806.67v15.5M792 806.67v15.5M804 806.67v15.5M816 806.67v15.5M826 806.67v15.5M838 806.67v15.5M850 806.67v15.5M862 806.67v15.5M874 806.67v15.5M886 806.67v15.5M898 806.67v15.5M908 806.67v15.5M920 806.67v15.5M932 806.67v15.5M944 806.67v15.5M956 806.67v15.5M968 806.67v15.5M980 806.67v15.5M990 806.67v15.5M1002 806.67v15.5M1014 806.67v15.5M1026 806.67v15.5M1038 806.67v15.5M1050 806.67v15.5M1062 806.67v15.5M1072 806.67v15.5M1084 806.67v15.5M1096 806.67v15.5M1108 806.67v15.5M1120 806.67v15.5M1132 806.67v15.5M1144 806.67v15.5M1154 806.67v15.5M1166 806.67v15.5M1178 806.67v15.5M1190 806.67v15.5M1202 806.67v15.5M1214 806.67v15.5M1226 806.67v15.5"/>

<!-- top tick labels -->
<g class="tl m">
<text x="252" y="108.5">-3</text><text x="276" y="108.5">-1</text><text x="300" y="108.5">1</text><text x="324" y="108.5">3</text>
<text x="416" y="108.5">-3</text><text x="440" y="108.5">-1</text><text x="464" y="108.5">1</text><text x="488" y="108.5">3</text>
<text x="580" y="108.5">-3</text><text x="604" y="108.5">-1</text><text x="628" y="108.5">1</text><text x="652" y="108.5">3</text>
<text x="744" y="108.5">-3</text><text x="768" y="108.5">-1</text><text x="792" y="108.5">1</text><text x="816" y="108.5">3</text>
</g>
<!-- bottom tick labels -->
<g class="tl m">
<text x="170" y="856.5">-3</text><text x="194" y="856.5">-1</text><text x="218" y="856.5">1</text><text x="242" y="856.5">3</text>
<text x="334" y="856.5">-3</text><text x="358" y="856.5">-1</text><text x="382" y="856.5">1</text><text x="406" y="856.5">3</text>
<text x="498" y="856.5">-3</text><text x="522" y="856.5">-1</text><text x="546" y="856.5">1</text><text x="570" y="856.5">3</text>
<text x="662" y="856.5">-3</text><text x="686" y="856.5">-1</text><text x="710" y="856.5">1</text><text x="734" y="856.5">3</text>
<text x="826" y="856.5">-3</text><text x="850" y="856.5">-1</text><text x="874" y="856.5">1</text><text x="898" y="856.5">3</text>
<text x="990" y="856.5">-3</text><text x="1014" y="856.5">-1</text><text x="1038" y="856.5">1</text><text x="1062" y="856.5">3</text>
<text x="1154" y="856.5">-3</text><text x="1178" y="856.5">-1</text><text x="1202" y="856.5">1</text><text x="1226" y="856.5">3</text>
</g>
<!-- left tick labels -->
<g class="tl e">
<text x="133.5" y="283.5">0.6</text><text x="133.5" y="311.5">0.0</text>
<text x="133.5" y="450.2">0.6</text><text x="133.5" y="478.2">0.0</text>
<text x="133.5" y="616.8">0.6</text><text x="133.5" y="644.8">0.0</text>
<text x="133.5" y="783.5">0.6</text><text x="133.5" y="811.5">0.0</text>
</g>
<!-- right tick labels -->
<g class="tl">
<text x="934" y="200.2">0.6</text><text x="934" y="228.2">0.0</text>
<text x="1262" y="366.8">0.6</text><text x="1262" y="394.8">0.0</text>
<text x="1262" y="533.5">0.6</text><text x="1262" y="561.5">0.0</text>
<text x="1262" y="700.2">0.6</text><text x="1262" y="728.2">0.0</text>
</g>

<text x="697" y="911" class="m" font-size="30">θ</text>
<text transform="translate(62,488) rotate(-90)" class="m" font-size="32" textLength="66" lengthAdjust="spacingAndGlyphs">P(θ)</text>
</svg>
</body></html>
